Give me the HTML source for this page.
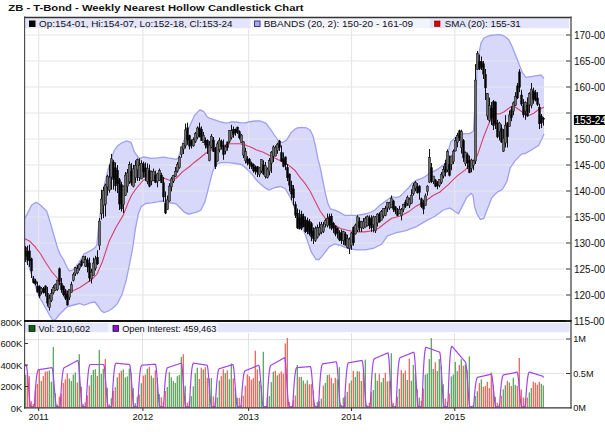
<!DOCTYPE html>
<html><head><meta charset="utf-8"><style>
html,body{margin:0;padding:0;background:#fff;}
body{width:605px;height:434px;overflow:hidden;position:relative;font-family:"Liberation Sans",sans-serif;}
svg{position:absolute;left:0;top:0;display:block;}
text{font-family:"Liberation Sans",sans-serif;}
</style></head><body>
<svg width="605" height="434" viewBox="0 0 605 434">
<rect x="0" y="0" width="605" height="434" fill="#fff"/>
<text x="8.3" y="10.6" font-size="9.9" fill="#111" textLength="295.2" lengthAdjust="spacingAndGlyphs" font-weight="bold">ZB - T-Bond - Weekly Nearest Hollow Candlestick Chart</text>
<rect x="25" y="18.4" width="225" height="9.8" fill="#e4e4fa"/>
<rect x="250" y="18.4" width="180" height="9.8" fill="#f3f3fd"/>
<rect x="430" y="18.4" width="139" height="9.8" fill="#e4e4fa"/>
<rect x="25" y="323" width="83" height="9.2" fill="#e4e4fa"/>
<rect x="108" y="323" width="110" height="9.2" fill="#f3f3fd"/>
<rect x="218" y="323" width="351.5" height="9.2" fill="#e4e4fa"/>
<clipPath id="pc"><rect x="25" y="28.2" width="545" height="292.1"/></clipPath>
<clipPath id="vc"><rect x="25" y="332.2" width="545" height="75.3"/></clipPath>
<g clip-path="url(#pc)">
<polygon points="24.0,220.0 27.0,214.4 31.6,205.2 36.2,202.2 40.7,205.2 46.8,211.3 51.4,226.5 57.5,247.8 60.0,254.0 63.7,260.0 67.4,268.0 69.5,271.0 73.0,270.0 78.0,264.0 84.0,254.0 87.7,252.1 91.4,250.3 95.0,247.5 96.9,244.8 98.4,228.5 101.4,204.6 104.4,185.0 108.0,170.0 111.0,160.0 114.0,151.0 117.5,146.0 121.5,143.0 126.5,141.0 131.0,142.3 134.4,152.0 139.0,158.4 144.0,157.0 151.2,158.3 157.4,157.9 163.6,157.2 167.8,157.9 171.9,158.3 176.0,159.3 178.1,158.3 183.0,143.0 189.5,126.4 194.5,115.3 200.0,109.8 203.7,111.6 207.4,117.0 210.0,118.3 215.5,120.1 221.0,122.0 224.8,122.9 228.5,122.9 231.2,122.0 235.8,122.0 241.4,122.9 245.0,122.9 248.7,122.0 254.3,121.0 260.0,121.0 266.0,123.3 270.2,128.8 274.3,135.0 278.5,141.0 282.6,142.6 286.8,139.9 290.9,133.0 295.0,129.0 297.5,127.8 301.3,127.3 306.4,127.8 310.2,130.3 312.8,135.4 315.3,145.5 317.8,158.2 320.4,168.4 322.9,181.0 325.5,193.8 328.0,203.9 330.5,209.0 335.6,210.3 340.7,212.8 345.0,215.5 348.3,215.3 356.6,215.3 364.9,214.0 370.0,212.5 375.0,210.0 379.1,205.9 383.3,202.8 387.4,199.7 391.6,196.6 395.7,197.6 399.8,196.6 404.0,192.4 408.1,188.3 412.3,183.1 416.4,180.0 420.5,179.0 424.7,176.9 428.8,173.8 433.0,171.7 437.1,169.7 441.3,166.6 445.0,164.0 450.7,142.0 457.6,135.3 464.5,133.6 469.7,133.6 473.5,131.0 475.0,105.0 477.0,72.0 479.0,53.0 481.0,43.0 484.0,38.0 490.0,35.5 498.0,34.6 501.0,35.0 505.0,36.5 508.5,39.5 511.0,44.0 513.5,50.0 516.5,57.5 519.5,65.5 522.6,73.0 526.0,77.3 534.1,76.1 541.0,75.0 544.0,78.5 544.0,134.0 542.2,138.2 538.7,145.2 531.8,149.8 525.0,153.5 521.9,153.8 515.0,160.8 510.3,167.7 506.9,181.5 502.3,189.6 497.7,191.9 491.9,197.6 487.3,209.2 483.8,218.4 480.4,219.5 476.9,213.8 474.6,206.9 473.0,195.3 471.1,193.5 466.5,197.6 462.0,206.9 458.5,213.8 455.0,211.5 450.0,208.0 443.4,210.0 435.0,216.3 426.8,220.4 416.4,226.6 406.0,230.7 395.7,232.8 387.4,236.0 381.5,244.3 373.2,248.5 364.9,249.9 356.6,249.9 348.3,248.5 340.3,245.4 334.8,244.0 329.2,246.8 325.0,252.3 322.0,256.4 319.0,259.5 316.0,259.5 311.0,251.4 305.8,236.0 300.8,223.5 295.7,210.8 290.6,198.0 285.5,189.0 280.5,186.5 275.4,187.5 269.0,190.0 265.2,187.9 260.5,184.0 256.0,179.5 252.4,174.6 248.7,170.9 245.0,167.2 241.4,164.4 235.8,163.5 228.5,162.6 221.0,162.6 217.4,163.5 215.0,166.6 212.3,172.8 209.2,185.2 205.0,201.8 200.9,210.0 196.8,212.1 192.6,213.1 188.5,214.2 184.3,212.1 180.2,208.0 176.0,203.8 171.0,203.0 166.0,202.0 161.6,201.0 157.4,201.8 151.2,202.8 145.8,203.5 141.3,206.4 138.3,214.0 135.4,228.9 132.4,249.8 129.4,264.7 126.4,279.7 122.0,294.6 117.4,303.6 113.0,308.0 108.5,311.0 104.0,312.6 101.0,310.5 98.0,306.0 95.0,302.0 91.4,302.5 87.7,303.8 84.0,305.0 79.5,303.5 73.5,305.0 67.5,306.5 63.0,311.0 58.5,315.5 56.0,319.0 53.0,320.5 50.0,316.0 45.0,307.0 40.0,298.0 36.0,288.0 32.0,276.0 28.0,264.0 24.0,258.0" fill="#d8d8fa" stroke="none"/>
<g stroke="#e6e6ec" stroke-width="1.2">
<line x1="25" y1="295.0" x2="564" y2="295.0"/>
<line x1="25" y1="269.0" x2="564" y2="269.0"/>
<line x1="25" y1="243.0" x2="564" y2="243.0"/>
<line x1="25" y1="217.0" x2="564" y2="217.0"/>
<line x1="25" y1="191.0" x2="564" y2="191.0"/>
<line x1="25" y1="165.0" x2="564" y2="165.0"/>
<line x1="25" y1="139.0" x2="564" y2="139.0"/>
<line x1="25" y1="113.0" x2="564" y2="113.0"/>
<line x1="25" y1="87.0" x2="564" y2="87.0"/>
<line x1="25" y1="61.0" x2="564" y2="61.0"/>
<line x1="25" y1="35.0" x2="564" y2="35.0"/>
<line x1="38.7" y1="28" x2="38.7" y2="320"/>
<line x1="142.9" y1="28" x2="142.9" y2="320"/>
<line x1="248.6" y1="28" x2="248.6" y2="320"/>
<line x1="351.5" y1="28" x2="351.5" y2="320"/>
<line x1="454.8" y1="28" x2="454.8" y2="320"/>
</g>
<polyline points="24.0,220.0 27.0,214.4 31.6,205.2 36.2,202.2 40.7,205.2 46.8,211.3 51.4,226.5 57.5,247.8 60.0,254.0 63.7,260.0 67.4,268.0 69.5,271.0 73.0,270.0 78.0,264.0 84.0,254.0 87.7,252.1 91.4,250.3 95.0,247.5 96.9,244.8 98.4,228.5 101.4,204.6 104.4,185.0 108.0,170.0 111.0,160.0 114.0,151.0 117.5,146.0 121.5,143.0 126.5,141.0 131.0,142.3 134.4,152.0 139.0,158.4 144.0,157.0 151.2,158.3 157.4,157.9 163.6,157.2 167.8,157.9 171.9,158.3 176.0,159.3 178.1,158.3 183.0,143.0 189.5,126.4 194.5,115.3 200.0,109.8 203.7,111.6 207.4,117.0 210.0,118.3 215.5,120.1 221.0,122.0 224.8,122.9 228.5,122.9 231.2,122.0 235.8,122.0 241.4,122.9 245.0,122.9 248.7,122.0 254.3,121.0 260.0,121.0 266.0,123.3 270.2,128.8 274.3,135.0 278.5,141.0 282.6,142.6 286.8,139.9 290.9,133.0 295.0,129.0 297.5,127.8 301.3,127.3 306.4,127.8 310.2,130.3 312.8,135.4 315.3,145.5 317.8,158.2 320.4,168.4 322.9,181.0 325.5,193.8 328.0,203.9 330.5,209.0 335.6,210.3 340.7,212.8 345.0,215.5 348.3,215.3 356.6,215.3 364.9,214.0 370.0,212.5 375.0,210.0 379.1,205.9 383.3,202.8 387.4,199.7 391.6,196.6 395.7,197.6 399.8,196.6 404.0,192.4 408.1,188.3 412.3,183.1 416.4,180.0 420.5,179.0 424.7,176.9 428.8,173.8 433.0,171.7 437.1,169.7 441.3,166.6 445.0,164.0 450.7,142.0 457.6,135.3 464.5,133.6 469.7,133.6 473.5,131.0 475.0,105.0 477.0,72.0 479.0,53.0 481.0,43.0 484.0,38.0 490.0,35.5 498.0,34.6 501.0,35.0 505.0,36.5 508.5,39.5 511.0,44.0 513.5,50.0 516.5,57.5 519.5,65.5 522.6,73.0 526.0,77.3 534.1,76.1 541.0,75.0 544.0,78.5" fill="none" stroke="#a0a0f0" stroke-width="1.3"/>
<polyline points="24.0,258.0 28.0,264.0 32.0,276.0 36.0,288.0 40.0,298.0 45.0,307.0 50.0,316.0 53.0,320.5 56.0,319.0 58.5,315.5 63.0,311.0 67.5,306.5 73.5,305.0 79.5,303.5 84.0,305.0 87.7,303.8 91.4,302.5 95.0,302.0 98.0,306.0 101.0,310.5 104.0,312.6 108.5,311.0 113.0,308.0 117.4,303.6 122.0,294.6 126.4,279.7 129.4,264.7 132.4,249.8 135.4,228.9 138.3,214.0 141.3,206.4 145.8,203.5 151.2,202.8 157.4,201.8 161.6,201.0 166.0,202.0 171.0,203.0 176.0,203.8 180.2,208.0 184.3,212.1 188.5,214.2 192.6,213.1 196.8,212.1 200.9,210.0 205.0,201.8 209.2,185.2 212.3,172.8 215.0,166.6 217.4,163.5 221.0,162.6 228.5,162.6 235.8,163.5 241.4,164.4 245.0,167.2 248.7,170.9 252.4,174.6 256.0,179.5 260.5,184.0 265.2,187.9 269.0,190.0 275.4,187.5 280.5,186.5 285.5,189.0 290.6,198.0 295.7,210.8 300.8,223.5 305.8,236.0 311.0,251.4 316.0,259.5 319.0,259.5 322.0,256.4 325.0,252.3 329.2,246.8 334.8,244.0 340.3,245.4 348.3,248.5 356.6,249.9 364.9,249.9 373.2,248.5 381.5,244.3 387.4,236.0 395.7,232.8 406.0,230.7 416.4,226.6 426.8,220.4 435.0,216.3 443.4,210.0 450.0,208.0 455.0,211.5 458.5,213.8 462.0,206.9 466.5,197.6 471.1,193.5 473.0,195.3 474.6,206.9 476.9,213.8 480.4,219.5 483.8,218.4 487.3,209.2 491.9,197.6 497.7,191.9 502.3,189.6 506.9,181.5 510.3,167.7 515.0,160.8 521.9,153.8 525.0,153.5 531.8,149.8 538.7,145.2 542.2,138.2 544.0,134.0" fill="none" stroke="#a0a0f0" stroke-width="1.3"/>
<polyline points="24.0,238.3 29.5,241.0 35.0,246.6 40.6,254.0 46.0,263.0 51.6,271.5 57.2,278.0 60.9,283.5 65.5,290.0 69.2,291.5 74.8,290.0 80.3,287.2 85.8,283.5 91.4,279.8 96.9,274.3 102.3,262.0 109.2,241.0 116.2,227.0 123.1,215.4 128.4,202.0 132.0,194.5 137.0,187.5 143.5,180.0 150.6,178.0 157.9,177.5 163.5,178.0 170.0,180.5 176.0,178.5 183.0,171.4 189.0,167.0 194.6,162.2 200.0,158.0 206.0,153.0 212.0,149.5 217.6,147.2 224.8,145.0 230.0,143.8 240.0,143.8 245.0,145.0 250.6,146.9 256.0,149.7 263.3,152.3 271.6,156.4 279.9,160.6 288.1,164.7 295.0,170.5 300.0,177.3 305.2,183.6 310.2,191.2 315.3,201.4 320.4,211.5 325.5,218.5 332.0,223.3 340.3,228.5 348.3,230.5 356.6,231.9 364.9,231.9 373.2,230.5 379.0,228.0 383.3,224.5 391.6,218.3 399.8,216.3 408.1,212.1 416.4,205.9 424.7,201.8 433.0,195.5 440.0,192.0 445.0,187.3 448.3,184.7 456.6,176.4 464.9,170.2 471.1,164.0 477.3,155.6 483.6,137.0 487.7,126.6 490.4,119.8 495.0,113.5 499.6,114.0 504.2,111.8 508.8,108.3 512.3,106.0 515.7,107.2 520.3,110.6 525.0,114.0 529.5,115.2 534.1,113.0 538.7,109.5 544.0,107.2" fill="none" stroke="#d8406a" stroke-width="1.1"/>
<line x1="25.5" y1="246.0" x2="25.5" y2="262.0" stroke="#111" stroke-width="1"/>
<rect x="24.30" y="247.2" width="2.4" height="9.3" fill="#000"/>
<line x1="27.5" y1="245.7" x2="27.5" y2="265.0" stroke="#111" stroke-width="1"/>
<rect x="26.30" y="251.1" width="2.4" height="9.2" fill="#000"/>
<line x1="29.5" y1="244.7" x2="29.5" y2="266.9" stroke="#111" stroke-width="1"/>
<rect x="28.30" y="250.6" width="2.4" height="10.5" fill="#000"/>
<line x1="31.5" y1="257.6" x2="31.5" y2="278.0" stroke="#111" stroke-width="1"/>
<rect x="30.30" y="258.5" width="2.4" height="12.7" fill="#000"/>
<line x1="33.5" y1="276.0" x2="33.5" y2="283.5" stroke="#111" stroke-width="1"/>
<rect x="32.30" y="278.3" width="2.4" height="4.6" fill="#000"/>
<line x1="35.5" y1="278.8" x2="35.5" y2="285.3" stroke="#111" stroke-width="1"/>
<rect x="34.30" y="280.6" width="2.4" height="3.5" fill="#000"/>
<line x1="37.5" y1="281.6" x2="37.5" y2="292.7" stroke="#111" stroke-width="1"/>
<rect x="36.30" y="285.6" width="2.4" height="6.8" fill="#000"/>
<line x1="39.5" y1="285.3" x2="39.5" y2="298.2" stroke="#111" stroke-width="1"/>
<rect x="38.30" y="286.1" width="2.4" height="10.2" fill="#000"/>
<line x1="41.5" y1="287.0" x2="41.5" y2="294.5" stroke="#111" stroke-width="1"/>
<rect x="40.30" y="288.2" width="2.4" height="3.7" fill="#6e6e6e" stroke="#111" stroke-width="0.5"/>
<line x1="43.5" y1="287.0" x2="43.5" y2="293.6" stroke="#111" stroke-width="1"/>
<rect x="42.30" y="288.3" width="2.4" height="4.5" fill="#000"/>
<line x1="45.5" y1="285.3" x2="45.5" y2="296.4" stroke="#111" stroke-width="1"/>
<rect x="44.30" y="285.7" width="2.4" height="7.4" fill="#000"/>
<line x1="47.5" y1="287.0" x2="47.5" y2="306.5" stroke="#111" stroke-width="1"/>
<rect x="46.30" y="293.0" width="2.4" height="10.4" fill="#000"/>
<line x1="49.5" y1="294.5" x2="49.5" y2="310.5" stroke="#111" stroke-width="1"/>
<rect x="48.30" y="298.4" width="2.4" height="9.2" fill="#6e6e6e" stroke="#111" stroke-width="0.5"/>
<line x1="51.5" y1="289.0" x2="51.5" y2="302.0" stroke="#111" stroke-width="1"/>
<rect x="50.30" y="293.3" width="2.4" height="7.4" fill="#6e6e6e" stroke="#111" stroke-width="0.5"/>
<line x1="53.5" y1="285.3" x2="53.5" y2="294.5" stroke="#111" stroke-width="1"/>
<rect x="52.30" y="287.7" width="2.4" height="5.0" fill="#6e6e6e" stroke="#111" stroke-width="0.5"/>
<line x1="55.5" y1="283.5" x2="55.5" y2="290.8" stroke="#111" stroke-width="1"/>
<rect x="54.30" y="284.5" width="2.4" height="5.8" fill="#6e6e6e" stroke="#111" stroke-width="0.5"/>
<line x1="57.5" y1="279.8" x2="57.5" y2="290.8" stroke="#111" stroke-width="1"/>
<rect x="56.30" y="280.1" width="2.4" height="9.3" fill="#6e6e6e" stroke="#111" stroke-width="0.5"/>
<line x1="59.5" y1="267.5" x2="59.5" y2="285.3" stroke="#111" stroke-width="1"/>
<rect x="58.30" y="268.3" width="2.4" height="13.4" fill="#000"/>
<line x1="61.5" y1="278.0" x2="61.5" y2="292.7" stroke="#111" stroke-width="1"/>
<rect x="60.30" y="283.1" width="2.4" height="6.8" fill="#000"/>
<line x1="63.5" y1="285.3" x2="63.5" y2="296.4" stroke="#111" stroke-width="1"/>
<rect x="62.30" y="286.0" width="2.4" height="8.9" fill="#000"/>
<line x1="65.5" y1="289.0" x2="65.5" y2="300.0" stroke="#111" stroke-width="1"/>
<rect x="64.30" y="291.0" width="2.4" height="7.6" fill="#000"/>
<line x1="67.5" y1="291.0" x2="67.5" y2="305.6" stroke="#111" stroke-width="1"/>
<rect x="66.30" y="293.8" width="2.4" height="11.5" fill="#000"/>
<line x1="69.5" y1="289.0" x2="69.5" y2="300.0" stroke="#111" stroke-width="1"/>
<rect x="68.30" y="289.3" width="2.4" height="7.9" fill="#6e6e6e" stroke="#111" stroke-width="0.5"/>
<line x1="71.5" y1="281.7" x2="71.5" y2="292.7" stroke="#111" stroke-width="1"/>
<rect x="70.30" y="284.7" width="2.4" height="7.8" fill="#6e6e6e" stroke="#111" stroke-width="0.5"/>
<line x1="73.5" y1="272.4" x2="73.5" y2="281.6" stroke="#111" stroke-width="1"/>
<rect x="72.30" y="274.7" width="2.4" height="5.6" fill="#6e6e6e" stroke="#111" stroke-width="0.5"/>
<line x1="75.5" y1="267.0" x2="75.5" y2="276.0" stroke="#111" stroke-width="1"/>
<rect x="74.30" y="267.7" width="2.4" height="5.7" fill="#6e6e6e" stroke="#111" stroke-width="0.5"/>
<line x1="77.5" y1="265.0" x2="77.5" y2="274.3" stroke="#111" stroke-width="1"/>
<rect x="76.30" y="268.6" width="2.4" height="4.4" fill="#6e6e6e" stroke="#111" stroke-width="0.5"/>
<line x1="79.5" y1="263.2" x2="79.5" y2="270.6" stroke="#111" stroke-width="1"/>
<rect x="78.30" y="264.5" width="2.4" height="4.1" fill="#6e6e6e" stroke="#111" stroke-width="0.5"/>
<line x1="81.5" y1="259.5" x2="81.5" y2="266.9" stroke="#111" stroke-width="1"/>
<rect x="80.30" y="261.0" width="2.4" height="4.7" fill="#000"/>
<line x1="83.5" y1="255.8" x2="83.5" y2="263.2" stroke="#111" stroke-width="1"/>
<rect x="82.30" y="256.3" width="2.4" height="5.9" fill="#6e6e6e" stroke="#111" stroke-width="0.5"/>
<line x1="85.5" y1="255.8" x2="85.5" y2="266.9" stroke="#111" stroke-width="1"/>
<rect x="84.30" y="259.6" width="2.4" height="6.6" fill="#6e6e6e" stroke="#111" stroke-width="0.5"/>
<line x1="87.5" y1="257.7" x2="87.5" y2="272.4" stroke="#111" stroke-width="1"/>
<rect x="86.30" y="259.5" width="2.4" height="7.7" fill="#000"/>
<line x1="89.5" y1="257.7" x2="89.5" y2="281.7" stroke="#111" stroke-width="1"/>
<rect x="88.30" y="262.7" width="2.4" height="15.5" fill="#000"/>
<line x1="91.5" y1="268.7" x2="91.5" y2="283.5" stroke="#111" stroke-width="1"/>
<rect x="90.30" y="272.2" width="2.4" height="6.7" fill="#6e6e6e" stroke="#111" stroke-width="0.5"/>
<line x1="93.5" y1="257.7" x2="93.5" y2="276.0" stroke="#111" stroke-width="1"/>
<rect x="92.30" y="263.1" width="2.4" height="12.4" fill="#6e6e6e" stroke="#111" stroke-width="0.5"/>
<line x1="95.5" y1="255.8" x2="95.5" y2="270.6" stroke="#111" stroke-width="1"/>
<rect x="94.30" y="258.9" width="2.4" height="9.7" fill="#6e6e6e" stroke="#111" stroke-width="0.5"/>
<line x1="97.5" y1="250.3" x2="97.5" y2="265.0" stroke="#111" stroke-width="1"/>
<rect x="96.30" y="257.0" width="2.4" height="7.0" fill="#000"/>
<line x1="99.5" y1="218.0" x2="99.5" y2="250.0" stroke="#111" stroke-width="1"/>
<rect x="98.30" y="221.0" width="2.4" height="24.6" fill="#6e6e6e" stroke="#111" stroke-width="0.5"/>
<line x1="101.5" y1="189.7" x2="101.5" y2="219.6" stroke="#111" stroke-width="1"/>
<rect x="100.30" y="199.1" width="2.4" height="14.7" fill="#6e6e6e" stroke="#111" stroke-width="0.5"/>
<line x1="103.5" y1="186.7" x2="103.5" y2="218.1" stroke="#111" stroke-width="1"/>
<rect x="102.30" y="190.6" width="2.4" height="15.0" fill="#6e6e6e" stroke="#111" stroke-width="0.5"/>
<line x1="105.5" y1="183.7" x2="105.5" y2="216.6" stroke="#111" stroke-width="1"/>
<rect x="104.30" y="185.0" width="2.4" height="19.3" fill="#6e6e6e" stroke="#111" stroke-width="0.5"/>
<line x1="107.5" y1="174.8" x2="107.5" y2="195.7" stroke="#111" stroke-width="1"/>
<rect x="106.30" y="176.2" width="2.4" height="10.7" fill="#6e6e6e" stroke="#111" stroke-width="0.5"/>
<line x1="109.5" y1="164.4" x2="109.5" y2="192.7" stroke="#111" stroke-width="1"/>
<rect x="108.30" y="177.2" width="2.4" height="13.0" fill="#6e6e6e" stroke="#111" stroke-width="0.5"/>
<line x1="111.5" y1="153.9" x2="111.5" y2="189.7" stroke="#111" stroke-width="1"/>
<rect x="110.30" y="158.8" width="2.4" height="18.2" fill="#6e6e6e" stroke="#111" stroke-width="0.5"/>
<line x1="113.5" y1="159.9" x2="113.5" y2="189.7" stroke="#111" stroke-width="1"/>
<rect x="112.30" y="161.8" width="2.4" height="17.8" fill="#000"/>
<line x1="115.5" y1="162.4" x2="115.5" y2="191.3" stroke="#111" stroke-width="1"/>
<rect x="114.30" y="167.6" width="2.4" height="18.4" fill="#000"/>
<line x1="117.5" y1="165.0" x2="117.5" y2="193.0" stroke="#111" stroke-width="1"/>
<rect x="116.30" y="170.1" width="2.4" height="13.7" fill="#000"/>
<line x1="119.5" y1="178.0" x2="119.5" y2="210.0" stroke="#111" stroke-width="1"/>
<rect x="118.30" y="179.4" width="2.4" height="25.0" fill="#000"/>
<line x1="121.5" y1="181.8" x2="121.5" y2="211.5" stroke="#111" stroke-width="1"/>
<rect x="120.30" y="184.4" width="2.4" height="24.7" fill="#000"/>
<line x1="123.5" y1="185.5" x2="123.5" y2="213.0" stroke="#111" stroke-width="1"/>
<rect x="122.30" y="186.2" width="2.4" height="18.3" fill="#6e6e6e" stroke="#111" stroke-width="0.5"/>
<line x1="125.5" y1="172.0" x2="125.5" y2="196.0" stroke="#111" stroke-width="1"/>
<rect x="124.30" y="175.1" width="2.4" height="20.2" fill="#6e6e6e" stroke="#111" stroke-width="0.5"/>
<line x1="127.5" y1="169.0" x2="127.5" y2="192.6" stroke="#111" stroke-width="1"/>
<rect x="126.30" y="173.0" width="2.4" height="13.1" fill="#6e6e6e" stroke="#111" stroke-width="0.5"/>
<line x1="129.5" y1="161.6" x2="129.5" y2="184.0" stroke="#111" stroke-width="1"/>
<rect x="128.30" y="164.5" width="2.4" height="17.0" fill="#6e6e6e" stroke="#111" stroke-width="0.5"/>
<line x1="131.5" y1="163.1" x2="131.5" y2="185.6" stroke="#111" stroke-width="1"/>
<rect x="130.30" y="171.2" width="2.4" height="12.1" fill="#000"/>
<line x1="133.5" y1="164.8" x2="133.5" y2="187.4" stroke="#111" stroke-width="1"/>
<rect x="132.30" y="168.8" width="2.4" height="17.5" fill="#6e6e6e" stroke="#111" stroke-width="0.5"/>
<line x1="135.5" y1="160.3" x2="135.5" y2="182.9" stroke="#111" stroke-width="1"/>
<rect x="134.30" y="165.7" width="2.4" height="12.2" fill="#6e6e6e" stroke="#111" stroke-width="0.5"/>
<line x1="137.5" y1="158.4" x2="137.5" y2="181.0" stroke="#111" stroke-width="1"/>
<rect x="136.30" y="159.3" width="2.4" height="10.4" fill="#6e6e6e" stroke="#111" stroke-width="0.5"/>
<line x1="139.5" y1="158.4" x2="139.5" y2="181.0" stroke="#111" stroke-width="1"/>
<rect x="138.30" y="165.2" width="2.4" height="12.5" fill="#6e6e6e" stroke="#111" stroke-width="0.5"/>
<line x1="141.5" y1="160.2" x2="141.5" y2="179.1" stroke="#111" stroke-width="1"/>
<rect x="140.30" y="163.3" width="2.4" height="15.6" fill="#6e6e6e" stroke="#111" stroke-width="0.5"/>
<line x1="143.5" y1="161.6" x2="143.5" y2="177.7" stroke="#111" stroke-width="1"/>
<rect x="142.30" y="163.5" width="2.4" height="8.7" fill="#000"/>
<line x1="145.5" y1="162.4" x2="145.5" y2="181.0" stroke="#111" stroke-width="1"/>
<rect x="144.30" y="167.7" width="2.4" height="9.9" fill="#000"/>
<line x1="147.5" y1="163.4" x2="147.5" y2="184.2" stroke="#111" stroke-width="1"/>
<rect x="146.30" y="168.2" width="2.4" height="13.3" fill="#6e6e6e" stroke="#111" stroke-width="0.5"/>
<line x1="149.5" y1="164.5" x2="149.5" y2="187.3" stroke="#111" stroke-width="1"/>
<rect x="148.30" y="170.2" width="2.4" height="16.3" fill="#000"/>
<line x1="151.5" y1="170.7" x2="151.5" y2="185.2" stroke="#111" stroke-width="1"/>
<rect x="150.30" y="171.8" width="2.4" height="9.3" fill="#6e6e6e" stroke="#111" stroke-width="0.5"/>
<line x1="153.5" y1="168.6" x2="153.5" y2="181.0" stroke="#111" stroke-width="1"/>
<rect x="152.30" y="171.2" width="2.4" height="9.6" fill="#6e6e6e" stroke="#111" stroke-width="0.5"/>
<line x1="155.5" y1="170.7" x2="155.5" y2="183.1" stroke="#111" stroke-width="1"/>
<rect x="154.30" y="175.1" width="2.4" height="7.6" fill="#000"/>
<line x1="157.5" y1="172.8" x2="157.5" y2="187.3" stroke="#111" stroke-width="1"/>
<rect x="156.30" y="173.9" width="2.4" height="7.5" fill="#6e6e6e" stroke="#111" stroke-width="0.5"/>
<line x1="159.5" y1="168.6" x2="159.5" y2="181.0" stroke="#111" stroke-width="1"/>
<rect x="158.30" y="170.4" width="2.4" height="10.1" fill="#6e6e6e" stroke="#111" stroke-width="0.5"/>
<line x1="161.5" y1="172.8" x2="161.5" y2="183.1" stroke="#111" stroke-width="1"/>
<rect x="160.30" y="174.9" width="2.4" height="8.0" fill="#000"/>
<line x1="163.5" y1="176.9" x2="163.5" y2="201.8" stroke="#111" stroke-width="1"/>
<rect x="162.30" y="182.4" width="2.4" height="14.7" fill="#000"/>
<line x1="165.5" y1="191.4" x2="165.5" y2="214.2" stroke="#111" stroke-width="1"/>
<rect x="164.30" y="202.9" width="2.4" height="10.4" fill="#000"/>
<line x1="167.5" y1="195.5" x2="167.5" y2="210.0" stroke="#111" stroke-width="1"/>
<rect x="166.30" y="199.9" width="2.4" height="9.6" fill="#6e6e6e" stroke="#111" stroke-width="0.5"/>
<line x1="169.5" y1="183.1" x2="169.5" y2="201.8" stroke="#111" stroke-width="1"/>
<rect x="168.30" y="186.1" width="2.4" height="14.9" fill="#6e6e6e" stroke="#111" stroke-width="0.5"/>
<line x1="171.5" y1="176.9" x2="171.5" y2="191.4" stroke="#111" stroke-width="1"/>
<rect x="170.30" y="178.9" width="2.4" height="8.0" fill="#6e6e6e" stroke="#111" stroke-width="0.5"/>
<line x1="173.5" y1="174.8" x2="173.5" y2="183.1" stroke="#111" stroke-width="1"/>
<rect x="172.30" y="175.5" width="2.4" height="5.7" fill="#6e6e6e" stroke="#111" stroke-width="0.5"/>
<line x1="175.5" y1="167.0" x2="175.5" y2="177.0" stroke="#111" stroke-width="1"/>
<rect x="174.30" y="171.3" width="2.4" height="5.0" fill="#6e6e6e" stroke="#111" stroke-width="0.5"/>
<line x1="177.5" y1="162.0" x2="177.5" y2="172.7" stroke="#111" stroke-width="1"/>
<rect x="176.30" y="164.3" width="2.4" height="6.8" fill="#6e6e6e" stroke="#111" stroke-width="0.5"/>
<line x1="179.5" y1="155.9" x2="179.5" y2="168.8" stroke="#111" stroke-width="1"/>
<rect x="178.30" y="157.1" width="2.4" height="10.5" fill="#6e6e6e" stroke="#111" stroke-width="0.5"/>
<line x1="181.5" y1="146.7" x2="181.5" y2="157.7" stroke="#111" stroke-width="1"/>
<rect x="180.30" y="147.0" width="2.4" height="7.3" fill="#6e6e6e" stroke="#111" stroke-width="0.5"/>
<line x1="183.5" y1="143.0" x2="183.5" y2="154.0" stroke="#111" stroke-width="1"/>
<rect x="182.30" y="143.3" width="2.4" height="5.8" fill="#6e6e6e" stroke="#111" stroke-width="0.5"/>
<line x1="185.5" y1="123.6" x2="185.5" y2="148.5" stroke="#111" stroke-width="1"/>
<rect x="184.30" y="129.9" width="2.4" height="15.9" fill="#6e6e6e" stroke="#111" stroke-width="0.5"/>
<line x1="187.5" y1="122.7" x2="187.5" y2="144.8" stroke="#111" stroke-width="1"/>
<rect x="186.30" y="127.5" width="2.4" height="12.8" fill="#000"/>
<line x1="189.5" y1="134.7" x2="189.5" y2="149.4" stroke="#111" stroke-width="1"/>
<rect x="188.30" y="135.2" width="2.4" height="11.3" fill="#000"/>
<line x1="191.5" y1="139.3" x2="191.5" y2="148.5" stroke="#111" stroke-width="1"/>
<rect x="190.30" y="140.5" width="2.4" height="5.1" fill="#000"/>
<line x1="193.5" y1="137.4" x2="193.5" y2="146.7" stroke="#111" stroke-width="1"/>
<rect x="192.30" y="139.6" width="2.4" height="6.3" fill="#6e6e6e" stroke="#111" stroke-width="0.5"/>
<line x1="195.5" y1="132.0" x2="195.5" y2="143.0" stroke="#111" stroke-width="1"/>
<rect x="194.30" y="133.7" width="2.4" height="7.6" fill="#6e6e6e" stroke="#111" stroke-width="0.5"/>
<line x1="197.5" y1="126.4" x2="197.5" y2="139.3" stroke="#111" stroke-width="1"/>
<rect x="196.30" y="128.0" width="2.4" height="9.4" fill="#6e6e6e" stroke="#111" stroke-width="0.5"/>
<line x1="199.5" y1="122.7" x2="199.5" y2="137.4" stroke="#111" stroke-width="1"/>
<rect x="198.30" y="127.4" width="2.4" height="9.4" fill="#000"/>
<line x1="201.5" y1="126.4" x2="201.5" y2="141.0" stroke="#111" stroke-width="1"/>
<rect x="200.30" y="129.0" width="2.4" height="11.7" fill="#000"/>
<line x1="203.5" y1="132.0" x2="203.5" y2="143.0" stroke="#111" stroke-width="1"/>
<rect x="202.30" y="135.2" width="2.4" height="7.4" fill="#6e6e6e" stroke="#111" stroke-width="0.5"/>
<line x1="205.5" y1="137.4" x2="205.5" y2="148.5" stroke="#111" stroke-width="1"/>
<rect x="204.30" y="139.9" width="2.4" height="5.5" fill="#000"/>
<line x1="207.5" y1="139.3" x2="207.5" y2="154.0" stroke="#111" stroke-width="1"/>
<rect x="206.30" y="140.1" width="2.4" height="8.0" fill="#000"/>
<line x1="209.5" y1="141.0" x2="209.5" y2="161.4" stroke="#111" stroke-width="1"/>
<rect x="208.30" y="145.1" width="2.4" height="15.6" fill="#6e6e6e" stroke="#111" stroke-width="0.5"/>
<line x1="211.5" y1="134.0" x2="211.5" y2="148.5" stroke="#111" stroke-width="1"/>
<rect x="210.30" y="136.5" width="2.4" height="10.7" fill="#6e6e6e" stroke="#111" stroke-width="0.5"/>
<line x1="213.5" y1="137.0" x2="213.5" y2="152.0" stroke="#111" stroke-width="1"/>
<rect x="212.30" y="139.7" width="2.4" height="12.0" fill="#000"/>
<line x1="215.5" y1="146.9" x2="215.5" y2="169.0" stroke="#111" stroke-width="1"/>
<rect x="214.30" y="148.4" width="2.4" height="18.4" fill="#000"/>
<line x1="217.5" y1="141.4" x2="217.5" y2="161.7" stroke="#111" stroke-width="1"/>
<rect x="216.30" y="143.9" width="2.4" height="17.2" fill="#6e6e6e" stroke="#111" stroke-width="0.5"/>
<line x1="219.5" y1="137.7" x2="219.5" y2="152.4" stroke="#111" stroke-width="1"/>
<rect x="218.30" y="140.6" width="2.4" height="9.2" fill="#6e6e6e" stroke="#111" stroke-width="0.5"/>
<line x1="221.5" y1="139.5" x2="221.5" y2="149.6" stroke="#111" stroke-width="1"/>
<rect x="220.30" y="141.1" width="2.4" height="5.4" fill="#000"/>
<line x1="223.5" y1="139.5" x2="223.5" y2="159.8" stroke="#111" stroke-width="1"/>
<rect x="222.30" y="145.5" width="2.4" height="9.3" fill="#000"/>
<line x1="225.5" y1="145.0" x2="225.5" y2="154.3" stroke="#111" stroke-width="1"/>
<rect x="224.30" y="146.8" width="2.4" height="4.3" fill="#6e6e6e" stroke="#111" stroke-width="0.5"/>
<line x1="227.5" y1="141.4" x2="227.5" y2="150.6" stroke="#111" stroke-width="1"/>
<rect x="226.30" y="141.7" width="2.4" height="6.0" fill="#000"/>
<line x1="229.5" y1="130.3" x2="229.5" y2="143.2" stroke="#111" stroke-width="1"/>
<rect x="228.30" y="130.6" width="2.4" height="10.8" fill="#6e6e6e" stroke="#111" stroke-width="0.5"/>
<line x1="231.5" y1="124.8" x2="231.5" y2="139.5" stroke="#111" stroke-width="1"/>
<rect x="230.30" y="130.7" width="2.4" height="6.8" fill="#6e6e6e" stroke="#111" stroke-width="0.5"/>
<line x1="233.5" y1="126.6" x2="233.5" y2="137.7" stroke="#111" stroke-width="1"/>
<rect x="232.30" y="129.0" width="2.4" height="5.6" fill="#000"/>
<line x1="235.5" y1="128.5" x2="235.5" y2="135.8" stroke="#111" stroke-width="1"/>
<rect x="234.30" y="129.1" width="2.4" height="4.0" fill="#000"/>
<line x1="237.5" y1="126.6" x2="237.5" y2="134.0" stroke="#111" stroke-width="1"/>
<rect x="236.30" y="126.9" width="2.4" height="5.4" fill="#000"/>
<line x1="239.5" y1="130.3" x2="239.5" y2="139.5" stroke="#111" stroke-width="1"/>
<rect x="238.30" y="131.4" width="2.4" height="6.7" fill="#000"/>
<line x1="241.5" y1="134.0" x2="241.5" y2="143.2" stroke="#111" stroke-width="1"/>
<rect x="240.30" y="135.0" width="2.4" height="7.6" fill="#6e6e6e" stroke="#111" stroke-width="0.5"/>
<line x1="243.5" y1="141.4" x2="243.5" y2="158.0" stroke="#111" stroke-width="1"/>
<rect x="242.30" y="141.8" width="2.4" height="13.2" fill="#6e6e6e" stroke="#111" stroke-width="0.5"/>
<line x1="245.5" y1="147.8" x2="245.5" y2="163.5" stroke="#111" stroke-width="1"/>
<rect x="244.30" y="151.4" width="2.4" height="9.2" fill="#6e6e6e" stroke="#111" stroke-width="0.5"/>
<line x1="247.5" y1="156.1" x2="247.5" y2="165.4" stroke="#111" stroke-width="1"/>
<rect x="246.30" y="158.5" width="2.4" height="4.7" fill="#000"/>
<line x1="249.5" y1="158.0" x2="249.5" y2="169.0" stroke="#111" stroke-width="1"/>
<rect x="248.30" y="159.1" width="2.4" height="5.4" fill="#000"/>
<line x1="251.5" y1="161.7" x2="251.5" y2="169.0" stroke="#111" stroke-width="1"/>
<rect x="250.30" y="162.8" width="2.4" height="3.9" fill="#000"/>
<line x1="253.5" y1="163.5" x2="253.5" y2="172.7" stroke="#111" stroke-width="1"/>
<rect x="252.30" y="164.2" width="2.4" height="6.9" fill="#000"/>
<line x1="255.5" y1="165.4" x2="255.5" y2="174.6" stroke="#111" stroke-width="1"/>
<rect x="254.30" y="167.0" width="2.4" height="4.8" fill="#000"/>
<line x1="257.5" y1="166.0" x2="257.5" y2="177.0" stroke="#111" stroke-width="1"/>
<rect x="256.30" y="166.3" width="2.4" height="6.1" fill="#000"/>
<line x1="259.5" y1="167.2" x2="259.5" y2="177.0" stroke="#111" stroke-width="1"/>
<rect x="258.30" y="167.9" width="2.4" height="6.6" fill="#6e6e6e" stroke="#111" stroke-width="0.5"/>
<line x1="261.5" y1="159.2" x2="261.5" y2="173.0" stroke="#111" stroke-width="1"/>
<rect x="260.30" y="159.6" width="2.4" height="11.4" fill="#6e6e6e" stroke="#111" stroke-width="0.5"/>
<line x1="263.5" y1="160.3" x2="263.5" y2="175.2" stroke="#111" stroke-width="1"/>
<rect x="262.30" y="164.5" width="2.4" height="9.7" fill="#000"/>
<line x1="265.5" y1="162.0" x2="265.5" y2="178.5" stroke="#111" stroke-width="1"/>
<rect x="264.30" y="165.8" width="2.4" height="10.8" fill="#6e6e6e" stroke="#111" stroke-width="0.5"/>
<line x1="267.5" y1="167.5" x2="267.5" y2="178.5" stroke="#111" stroke-width="1"/>
<rect x="266.30" y="169.1" width="2.4" height="8.6" fill="#6e6e6e" stroke="#111" stroke-width="0.5"/>
<line x1="269.5" y1="158.1" x2="269.5" y2="175.4" stroke="#111" stroke-width="1"/>
<rect x="268.30" y="160.5" width="2.4" height="10.6" fill="#6e6e6e" stroke="#111" stroke-width="0.5"/>
<line x1="271.5" y1="151.0" x2="271.5" y2="173.0" stroke="#111" stroke-width="1"/>
<rect x="270.30" y="152.2" width="2.4" height="11.0" fill="#6e6e6e" stroke="#111" stroke-width="0.5"/>
<line x1="273.5" y1="145.4" x2="273.5" y2="162.0" stroke="#111" stroke-width="1"/>
<rect x="272.30" y="146.9" width="2.4" height="9.2" fill="#6e6e6e" stroke="#111" stroke-width="0.5"/>
<line x1="275.5" y1="145.4" x2="275.5" y2="156.4" stroke="#111" stroke-width="1"/>
<rect x="274.30" y="147.4" width="2.4" height="8.7" fill="#6e6e6e" stroke="#111" stroke-width="0.5"/>
<line x1="277.5" y1="142.8" x2="277.5" y2="153.8" stroke="#111" stroke-width="1"/>
<rect x="276.30" y="144.1" width="2.4" height="6.2" fill="#6e6e6e" stroke="#111" stroke-width="0.5"/>
<line x1="279.5" y1="139.9" x2="279.5" y2="150.9" stroke="#111" stroke-width="1"/>
<rect x="278.30" y="140.7" width="2.4" height="7.0" fill="#000"/>
<line x1="281.5" y1="145.4" x2="281.5" y2="162.0" stroke="#111" stroke-width="1"/>
<rect x="280.30" y="152.2" width="2.4" height="9.2" fill="#000"/>
<line x1="283.5" y1="152.5" x2="283.5" y2="167.3" stroke="#111" stroke-width="1"/>
<rect x="282.30" y="158.6" width="2.4" height="8.1" fill="#000"/>
<line x1="285.5" y1="156.4" x2="285.5" y2="170.2" stroke="#111" stroke-width="1"/>
<rect x="284.30" y="156.7" width="2.4" height="8.2" fill="#000"/>
<line x1="287.5" y1="164.2" x2="287.5" y2="181.0" stroke="#111" stroke-width="1"/>
<rect x="286.30" y="167.2" width="2.4" height="10.7" fill="#000"/>
<line x1="289.5" y1="173.5" x2="289.5" y2="191.5" stroke="#111" stroke-width="1"/>
<rect x="288.30" y="173.8" width="2.4" height="11.7" fill="#000"/>
<line x1="291.5" y1="180.7" x2="291.5" y2="200.3" stroke="#111" stroke-width="1"/>
<rect x="290.30" y="184.9" width="2.4" height="9.5" fill="#000"/>
<line x1="293.5" y1="185.0" x2="293.5" y2="205.5" stroke="#111" stroke-width="1"/>
<rect x="292.30" y="188.6" width="2.4" height="9.4" fill="#000"/>
<line x1="295.5" y1="201.5" x2="295.5" y2="218.0" stroke="#111" stroke-width="1"/>
<rect x="294.30" y="204.2" width="2.4" height="11.3" fill="#000"/>
<line x1="297.5" y1="208.5" x2="297.5" y2="229.0" stroke="#111" stroke-width="1"/>
<rect x="296.30" y="213.0" width="2.4" height="15.1" fill="#000"/>
<line x1="299.5" y1="209.7" x2="299.5" y2="229.6" stroke="#111" stroke-width="1"/>
<rect x="298.30" y="217.5" width="2.4" height="11.6" fill="#000"/>
<line x1="301.5" y1="210.8" x2="301.5" y2="230.2" stroke="#111" stroke-width="1"/>
<rect x="300.30" y="214.0" width="2.4" height="14.3" fill="#000"/>
<line x1="303.5" y1="213.6" x2="303.5" y2="227.4" stroke="#111" stroke-width="1"/>
<rect x="302.30" y="216.1" width="2.4" height="10.8" fill="#000"/>
<line x1="305.5" y1="216.4" x2="305.5" y2="233.0" stroke="#111" stroke-width="1"/>
<rect x="304.30" y="219.7" width="2.4" height="12.3" fill="#000"/>
<line x1="307.5" y1="217.6" x2="307.5" y2="234.3" stroke="#111" stroke-width="1"/>
<rect x="306.30" y="220.5" width="2.4" height="11.0" fill="#000"/>
<line x1="309.5" y1="219.0" x2="309.5" y2="235.7" stroke="#111" stroke-width="1"/>
<rect x="308.30" y="221.1" width="2.4" height="13.0" fill="#000"/>
<line x1="311.5" y1="221.9" x2="311.5" y2="241.2" stroke="#111" stroke-width="1"/>
<rect x="310.30" y="223.3" width="2.4" height="14.0" fill="#000"/>
<line x1="313.5" y1="227.4" x2="313.5" y2="244.0" stroke="#111" stroke-width="1"/>
<rect x="312.30" y="230.5" width="2.4" height="8.4" fill="#000"/>
<line x1="315.5" y1="226.4" x2="315.5" y2="242.0" stroke="#111" stroke-width="1"/>
<rect x="314.30" y="228.3" width="2.4" height="12.3" fill="#6e6e6e" stroke="#111" stroke-width="0.5"/>
<line x1="317.5" y1="224.6" x2="317.5" y2="238.5" stroke="#111" stroke-width="1"/>
<rect x="316.30" y="227.4" width="2.4" height="9.7" fill="#6e6e6e" stroke="#111" stroke-width="0.5"/>
<line x1="319.5" y1="221.9" x2="319.5" y2="235.7" stroke="#111" stroke-width="1"/>
<rect x="318.30" y="227.7" width="2.4" height="6.2" fill="#6e6e6e" stroke="#111" stroke-width="0.5"/>
<line x1="321.5" y1="221.9" x2="321.5" y2="234.3" stroke="#111" stroke-width="1"/>
<rect x="320.30" y="224.2" width="2.4" height="8.1" fill="#6e6e6e" stroke="#111" stroke-width="0.5"/>
<line x1="323.5" y1="221.9" x2="323.5" y2="233.0" stroke="#111" stroke-width="1"/>
<rect x="322.30" y="226.0" width="2.4" height="5.3" fill="#6e6e6e" stroke="#111" stroke-width="0.5"/>
<line x1="325.5" y1="219.0" x2="325.5" y2="227.4" stroke="#111" stroke-width="1"/>
<rect x="324.30" y="220.3" width="2.4" height="4.0" fill="#6e6e6e" stroke="#111" stroke-width="0.5"/>
<line x1="327.5" y1="213.6" x2="327.5" y2="227.4" stroke="#111" stroke-width="1"/>
<rect x="326.30" y="218.2" width="2.4" height="7.3" fill="#6e6e6e" stroke="#111" stroke-width="0.5"/>
<line x1="329.5" y1="213.6" x2="329.5" y2="228.6" stroke="#111" stroke-width="1"/>
<rect x="328.30" y="216.5" width="2.4" height="9.0" fill="#000"/>
<line x1="331.5" y1="213.6" x2="331.5" y2="230.2" stroke="#111" stroke-width="1"/>
<rect x="330.30" y="216.0" width="2.4" height="12.6" fill="#000"/>
<line x1="333.5" y1="221.9" x2="333.5" y2="233.0" stroke="#111" stroke-width="1"/>
<rect x="332.30" y="223.0" width="2.4" height="5.3" fill="#000"/>
<line x1="335.5" y1="225.2" x2="335.5" y2="236.3" stroke="#111" stroke-width="1"/>
<rect x="334.30" y="226.1" width="2.4" height="8.3" fill="#000"/>
<line x1="337.5" y1="227.4" x2="337.5" y2="238.5" stroke="#111" stroke-width="1"/>
<rect x="336.30" y="228.0" width="2.4" height="5.1" fill="#000"/>
<line x1="339.5" y1="230.2" x2="339.5" y2="241.2" stroke="#111" stroke-width="1"/>
<rect x="338.30" y="232.3" width="2.4" height="7.9" fill="#000"/>
<line x1="341.5" y1="229.5" x2="341.5" y2="244.0" stroke="#111" stroke-width="1"/>
<rect x="340.30" y="232.7" width="2.4" height="8.2" fill="#000"/>
<line x1="343.5" y1="230.8" x2="343.5" y2="244.9" stroke="#111" stroke-width="1"/>
<rect x="342.30" y="231.6" width="2.4" height="9.0" fill="#6e6e6e" stroke="#111" stroke-width="0.5"/>
<line x1="345.5" y1="232.0" x2="345.5" y2="245.7" stroke="#111" stroke-width="1"/>
<rect x="344.30" y="233.9" width="2.4" height="11.5" fill="#000"/>
<line x1="347.5" y1="234.6" x2="347.5" y2="248.5" stroke="#111" stroke-width="1"/>
<rect x="346.30" y="238.6" width="2.4" height="8.8" fill="#6e6e6e" stroke="#111" stroke-width="0.5"/>
<line x1="349.5" y1="237.4" x2="349.5" y2="254.0" stroke="#111" stroke-width="1"/>
<rect x="348.30" y="239.2" width="2.4" height="9.3" fill="#6e6e6e" stroke="#111" stroke-width="0.5"/>
<line x1="351.5" y1="231.9" x2="351.5" y2="249.8" stroke="#111" stroke-width="1"/>
<rect x="350.30" y="232.9" width="2.4" height="12.3" fill="#6e6e6e" stroke="#111" stroke-width="0.5"/>
<line x1="353.5" y1="226.4" x2="353.5" y2="245.7" stroke="#111" stroke-width="1"/>
<rect x="352.30" y="227.0" width="2.4" height="16.0" fill="#000"/>
<line x1="355.5" y1="223.6" x2="355.5" y2="234.6" stroke="#111" stroke-width="1"/>
<rect x="354.30" y="225.1" width="2.4" height="8.9" fill="#6e6e6e" stroke="#111" stroke-width="0.5"/>
<line x1="357.5" y1="215.3" x2="357.5" y2="231.9" stroke="#111" stroke-width="1"/>
<rect x="356.30" y="216.8" width="2.4" height="13.4" fill="#6e6e6e" stroke="#111" stroke-width="0.5"/>
<line x1="359.5" y1="217.3" x2="359.5" y2="231.9" stroke="#111" stroke-width="1"/>
<rect x="358.30" y="221.3" width="2.4" height="6.6" fill="#000"/>
<line x1="361.5" y1="220.8" x2="361.5" y2="231.9" stroke="#111" stroke-width="1"/>
<rect x="360.30" y="221.6" width="2.4" height="6.3" fill="#6e6e6e" stroke="#111" stroke-width="0.5"/>
<line x1="363.5" y1="218.0" x2="363.5" y2="229.0" stroke="#111" stroke-width="1"/>
<rect x="362.30" y="221.8" width="2.4" height="6.3" fill="#6e6e6e" stroke="#111" stroke-width="0.5"/>
<line x1="365.5" y1="216.5" x2="365.5" y2="227.6" stroke="#111" stroke-width="1"/>
<rect x="364.30" y="218.7" width="2.4" height="8.3" fill="#6e6e6e" stroke="#111" stroke-width="0.5"/>
<line x1="367.5" y1="215.3" x2="367.5" y2="226.4" stroke="#111" stroke-width="1"/>
<rect x="366.30" y="216.7" width="2.4" height="9.1" fill="#6e6e6e" stroke="#111" stroke-width="0.5"/>
<line x1="369.5" y1="215.3" x2="369.5" y2="229.0" stroke="#111" stroke-width="1"/>
<rect x="368.30" y="217.5" width="2.4" height="8.2" fill="#000"/>
<line x1="371.5" y1="215.3" x2="371.5" y2="231.9" stroke="#111" stroke-width="1"/>
<rect x="370.30" y="218.2" width="2.4" height="9.9" fill="#000"/>
<line x1="373.5" y1="215.6" x2="373.5" y2="232.4" stroke="#111" stroke-width="1"/>
<rect x="372.30" y="216.9" width="2.4" height="7.9" fill="#6e6e6e" stroke="#111" stroke-width="0.5"/>
<line x1="375.5" y1="216.0" x2="375.5" y2="233.0" stroke="#111" stroke-width="1"/>
<rect x="374.30" y="216.8" width="2.4" height="14.0" fill="#6e6e6e" stroke="#111" stroke-width="0.5"/>
<line x1="377.5" y1="213.1" x2="377.5" y2="226.6" stroke="#111" stroke-width="1"/>
<rect x="376.30" y="214.1" width="2.4" height="8.8" fill="#6e6e6e" stroke="#111" stroke-width="0.5"/>
<line x1="379.5" y1="212.2" x2="379.5" y2="222.5" stroke="#111" stroke-width="1"/>
<rect x="378.30" y="213.7" width="2.4" height="8.6" fill="#000"/>
<line x1="381.5" y1="210.0" x2="381.5" y2="220.4" stroke="#111" stroke-width="1"/>
<rect x="380.30" y="211.7" width="2.4" height="8.5" fill="#6e6e6e" stroke="#111" stroke-width="0.5"/>
<line x1="383.5" y1="208.0" x2="383.5" y2="218.3" stroke="#111" stroke-width="1"/>
<rect x="382.30" y="208.3" width="2.4" height="7.6" fill="#6e6e6e" stroke="#111" stroke-width="0.5"/>
<line x1="385.5" y1="205.9" x2="385.5" y2="216.3" stroke="#111" stroke-width="1"/>
<rect x="384.30" y="208.7" width="2.4" height="6.6" fill="#6e6e6e" stroke="#111" stroke-width="0.5"/>
<line x1="387.5" y1="201.8" x2="387.5" y2="212.1" stroke="#111" stroke-width="1"/>
<rect x="386.30" y="202.2" width="2.4" height="5.8" fill="#6e6e6e" stroke="#111" stroke-width="0.5"/>
<line x1="389.5" y1="201.8" x2="389.5" y2="210.0" stroke="#111" stroke-width="1"/>
<rect x="388.30" y="202.9" width="2.4" height="5.2" fill="#6e6e6e" stroke="#111" stroke-width="0.5"/>
<line x1="391.5" y1="195.5" x2="391.5" y2="208.0" stroke="#111" stroke-width="1"/>
<rect x="390.30" y="198.5" width="2.4" height="9.3" fill="#6e6e6e" stroke="#111" stroke-width="0.5"/>
<line x1="393.5" y1="199.7" x2="393.5" y2="212.1" stroke="#111" stroke-width="1"/>
<rect x="392.30" y="200.8" width="2.4" height="8.8" fill="#000"/>
<line x1="395.5" y1="205.9" x2="395.5" y2="214.2" stroke="#111" stroke-width="1"/>
<rect x="394.30" y="206.6" width="2.4" height="5.0" fill="#000"/>
<line x1="397.5" y1="208.0" x2="397.5" y2="216.3" stroke="#111" stroke-width="1"/>
<rect x="396.30" y="211.4" width="2.4" height="4.4" fill="#000"/>
<line x1="399.5" y1="205.9" x2="399.5" y2="214.2" stroke="#111" stroke-width="1"/>
<rect x="398.30" y="209.2" width="2.4" height="4.5" fill="#6e6e6e" stroke="#111" stroke-width="0.5"/>
<line x1="401.5" y1="208.0" x2="401.5" y2="220.4" stroke="#111" stroke-width="1"/>
<rect x="400.30" y="209.4" width="2.4" height="6.3" fill="#6e6e6e" stroke="#111" stroke-width="0.5"/>
<line x1="403.5" y1="203.8" x2="403.5" y2="212.1" stroke="#111" stroke-width="1"/>
<rect x="402.30" y="204.3" width="2.4" height="4.9" fill="#6e6e6e" stroke="#111" stroke-width="0.5"/>
<line x1="405.5" y1="199.7" x2="405.5" y2="208.0" stroke="#111" stroke-width="1"/>
<rect x="404.30" y="201.8" width="2.4" height="4.6" fill="#000"/>
<line x1="407.5" y1="195.5" x2="407.5" y2="205.9" stroke="#111" stroke-width="1"/>
<rect x="406.30" y="197.2" width="2.4" height="6.4" fill="#6e6e6e" stroke="#111" stroke-width="0.5"/>
<line x1="409.5" y1="197.6" x2="409.5" y2="208.0" stroke="#111" stroke-width="1"/>
<rect x="408.30" y="199.1" width="2.4" height="6.2" fill="#6e6e6e" stroke="#111" stroke-width="0.5"/>
<line x1="411.5" y1="189.3" x2="411.5" y2="203.8" stroke="#111" stroke-width="1"/>
<rect x="410.30" y="195.2" width="2.4" height="8.1" fill="#6e6e6e" stroke="#111" stroke-width="0.5"/>
<line x1="413.5" y1="183.1" x2="413.5" y2="195.5" stroke="#111" stroke-width="1"/>
<rect x="412.30" y="185.8" width="2.4" height="8.1" fill="#6e6e6e" stroke="#111" stroke-width="0.5"/>
<line x1="415.5" y1="181.0" x2="415.5" y2="191.4" stroke="#111" stroke-width="1"/>
<rect x="414.30" y="182.3" width="2.4" height="5.8" fill="#6e6e6e" stroke="#111" stroke-width="0.5"/>
<line x1="417.5" y1="183.1" x2="417.5" y2="193.5" stroke="#111" stroke-width="1"/>
<rect x="416.30" y="186.6" width="2.4" height="6.5" fill="#000"/>
<line x1="419.5" y1="185.2" x2="419.5" y2="199.7" stroke="#111" stroke-width="1"/>
<rect x="418.30" y="185.8" width="2.4" height="6.7" fill="#000"/>
<line x1="421.5" y1="197.6" x2="421.5" y2="208.0" stroke="#111" stroke-width="1"/>
<rect x="420.30" y="198.5" width="2.4" height="8.4" fill="#000"/>
<line x1="423.5" y1="199.7" x2="423.5" y2="214.2" stroke="#111" stroke-width="1"/>
<rect x="422.30" y="202.9" width="2.4" height="6.5" fill="#000"/>
<line x1="425.5" y1="193.5" x2="425.5" y2="205.9" stroke="#111" stroke-width="1"/>
<rect x="424.30" y="195.9" width="2.4" height="9.8" fill="#6e6e6e" stroke="#111" stroke-width="0.5"/>
<line x1="427.5" y1="185.2" x2="427.5" y2="195.5" stroke="#111" stroke-width="1"/>
<rect x="426.30" y="186.2" width="2.4" height="5.1" fill="#6e6e6e" stroke="#111" stroke-width="0.5"/>
<line x1="429.5" y1="149.0" x2="429.5" y2="183.1" stroke="#111" stroke-width="1"/>
<rect x="428.30" y="157.5" width="2.4" height="24.6" fill="#6e6e6e" stroke="#111" stroke-width="0.5"/>
<line x1="431.5" y1="163.0" x2="431.5" y2="183.1" stroke="#111" stroke-width="1"/>
<rect x="430.30" y="167.3" width="2.4" height="14.3" fill="#000"/>
<line x1="433.5" y1="175.9" x2="433.5" y2="184.1" stroke="#111" stroke-width="1"/>
<rect x="432.30" y="176.1" width="2.4" height="5.5" fill="#6e6e6e" stroke="#111" stroke-width="0.5"/>
<line x1="435.5" y1="178.9" x2="435.5" y2="187.2" stroke="#111" stroke-width="1"/>
<rect x="434.30" y="179.9" width="2.4" height="6.7" fill="#000"/>
<line x1="437.5" y1="181.0" x2="437.5" y2="189.3" stroke="#111" stroke-width="1"/>
<rect x="436.30" y="182.1" width="2.4" height="4.2" fill="#000"/>
<line x1="439.5" y1="179.0" x2="439.5" y2="187.3" stroke="#111" stroke-width="1"/>
<rect x="438.30" y="179.3" width="2.4" height="6.1" fill="#6e6e6e" stroke="#111" stroke-width="0.5"/>
<line x1="441.5" y1="172.0" x2="441.5" y2="184.0" stroke="#111" stroke-width="1"/>
<rect x="440.30" y="174.3" width="2.4" height="7.9" fill="#6e6e6e" stroke="#111" stroke-width="0.5"/>
<line x1="443.5" y1="166.0" x2="443.5" y2="178.5" stroke="#111" stroke-width="1"/>
<rect x="442.30" y="169.4" width="2.4" height="6.7" fill="#6e6e6e" stroke="#111" stroke-width="0.5"/>
<line x1="445.5" y1="159.8" x2="445.5" y2="176.4" stroke="#111" stroke-width="1"/>
<rect x="444.30" y="163.1" width="2.4" height="9.5" fill="#000"/>
<line x1="447.5" y1="149.4" x2="447.5" y2="172.2" stroke="#111" stroke-width="1"/>
<rect x="446.30" y="151.5" width="2.4" height="18.3" fill="#6e6e6e" stroke="#111" stroke-width="0.5"/>
<line x1="449.5" y1="155.6" x2="449.5" y2="176.4" stroke="#111" stroke-width="1"/>
<rect x="448.30" y="164.2" width="2.4" height="11.4" fill="#000"/>
<line x1="451.5" y1="155.6" x2="451.5" y2="170.2" stroke="#111" stroke-width="1"/>
<rect x="450.30" y="156.0" width="2.4" height="8.4" fill="#6e6e6e" stroke="#111" stroke-width="0.5"/>
<line x1="453.5" y1="149.4" x2="453.5" y2="164.0" stroke="#111" stroke-width="1"/>
<rect x="452.30" y="151.2" width="2.4" height="10.5" fill="#6e6e6e" stroke="#111" stroke-width="0.5"/>
<line x1="455.5" y1="137.0" x2="455.5" y2="151.5" stroke="#111" stroke-width="1"/>
<rect x="454.30" y="140.6" width="2.4" height="10.4" fill="#6e6e6e" stroke="#111" stroke-width="0.5"/>
<line x1="457.5" y1="132.8" x2="457.5" y2="147.3" stroke="#111" stroke-width="1"/>
<rect x="456.30" y="135.6" width="2.4" height="6.7" fill="#6e6e6e" stroke="#111" stroke-width="0.5"/>
<line x1="459.5" y1="129.7" x2="459.5" y2="141.0" stroke="#111" stroke-width="1"/>
<rect x="458.30" y="130.4" width="2.4" height="8.2" fill="#000"/>
<line x1="461.5" y1="129.7" x2="461.5" y2="153.6" stroke="#111" stroke-width="1"/>
<rect x="460.30" y="131.7" width="2.4" height="15.6" fill="#6e6e6e" stroke="#111" stroke-width="0.5"/>
<line x1="463.5" y1="139.0" x2="463.5" y2="161.9" stroke="#111" stroke-width="1"/>
<rect x="462.30" y="140.3" width="2.4" height="17.8" fill="#000"/>
<line x1="465.5" y1="151.5" x2="465.5" y2="166.0" stroke="#111" stroke-width="1"/>
<rect x="464.30" y="152.6" width="2.4" height="10.9" fill="#6e6e6e" stroke="#111" stroke-width="0.5"/>
<line x1="467.5" y1="152.6" x2="467.5" y2="169.1" stroke="#111" stroke-width="1"/>
<rect x="466.30" y="154.5" width="2.4" height="8.7" fill="#000"/>
<line x1="469.5" y1="155.6" x2="469.5" y2="173.2" stroke="#111" stroke-width="1"/>
<rect x="468.30" y="160.2" width="2.4" height="12.6" fill="#000"/>
<line x1="471.5" y1="158.7" x2="471.5" y2="172.3" stroke="#111" stroke-width="1"/>
<rect x="470.30" y="160.0" width="2.4" height="8.3" fill="#6e6e6e" stroke="#111" stroke-width="0.5"/>
<line x1="473.5" y1="159.8" x2="473.5" y2="170.2" stroke="#111" stroke-width="1"/>
<rect x="472.30" y="160.4" width="2.4" height="4.9" fill="#6e6e6e" stroke="#111" stroke-width="0.5"/>
<line x1="475.5" y1="64.0" x2="475.5" y2="164.0" stroke="#111" stroke-width="1"/>
<rect x="474.30" y="80.1" width="2.4" height="80.9" fill="#6e6e6e" stroke="#111" stroke-width="0.5"/>
<line x1="477.5" y1="51.0" x2="477.5" y2="70.0" stroke="#111" stroke-width="1"/>
<rect x="476.30" y="53.5" width="2.4" height="16.1" fill="#6e6e6e" stroke="#111" stroke-width="0.5"/>
<line x1="479.5" y1="54.5" x2="479.5" y2="70.0" stroke="#111" stroke-width="1"/>
<rect x="478.30" y="61.1" width="2.4" height="8.1" fill="#000"/>
<line x1="481.5" y1="56.5" x2="481.5" y2="70.0" stroke="#111" stroke-width="1"/>
<rect x="480.30" y="61.2" width="2.4" height="6.2" fill="#000"/>
<line x1="483.5" y1="61.0" x2="483.5" y2="79.0" stroke="#111" stroke-width="1"/>
<rect x="482.30" y="63.5" width="2.4" height="10.8" fill="#000"/>
<line x1="485.5" y1="69.0" x2="485.5" y2="100.0" stroke="#111" stroke-width="1"/>
<rect x="484.30" y="74.1" width="2.4" height="14.0" fill="#000"/>
<line x1="487.5" y1="93.0" x2="487.5" y2="119.8" stroke="#111" stroke-width="1"/>
<rect x="486.30" y="93.7" width="2.4" height="22.3" fill="#6e6e6e" stroke="#111" stroke-width="0.5"/>
<line x1="489.5" y1="97.5" x2="489.5" y2="122.4" stroke="#111" stroke-width="1"/>
<rect x="488.30" y="105.5" width="2.4" height="14.8" fill="#6e6e6e" stroke="#111" stroke-width="0.5"/>
<line x1="491.5" y1="102.0" x2="491.5" y2="125.0" stroke="#111" stroke-width="1"/>
<rect x="490.30" y="107.8" width="2.4" height="10.8" fill="#000"/>
<line x1="493.5" y1="100.0" x2="493.5" y2="130.0" stroke="#111" stroke-width="1"/>
<rect x="492.30" y="101.2" width="2.4" height="24.5" fill="#000"/>
<line x1="495.5" y1="101.4" x2="495.5" y2="129.0" stroke="#111" stroke-width="1"/>
<rect x="494.30" y="101.8" width="2.4" height="22.3" fill="#000"/>
<line x1="497.5" y1="119.8" x2="497.5" y2="138.2" stroke="#111" stroke-width="1"/>
<rect x="496.30" y="122.9" width="2.4" height="14.3" fill="#000"/>
<line x1="499.5" y1="121.9" x2="499.5" y2="140.4" stroke="#111" stroke-width="1"/>
<rect x="498.30" y="123.0" width="2.4" height="8.6" fill="#6e6e6e" stroke="#111" stroke-width="0.5"/>
<line x1="501.5" y1="124.4" x2="501.5" y2="142.9" stroke="#111" stroke-width="1"/>
<rect x="500.30" y="128.4" width="2.4" height="13.9" fill="#000"/>
<line x1="503.5" y1="129.0" x2="503.5" y2="152.0" stroke="#111" stroke-width="1"/>
<rect x="502.30" y="138.3" width="2.4" height="12.9" fill="#6e6e6e" stroke="#111" stroke-width="0.5"/>
<line x1="505.5" y1="115.2" x2="505.5" y2="147.5" stroke="#111" stroke-width="1"/>
<rect x="504.30" y="125.2" width="2.4" height="17.9" fill="#6e6e6e" stroke="#111" stroke-width="0.5"/>
<line x1="507.5" y1="122.1" x2="507.5" y2="147.5" stroke="#111" stroke-width="1"/>
<rect x="506.30" y="122.7" width="2.4" height="14.2" fill="#000"/>
<line x1="509.5" y1="110.6" x2="509.5" y2="126.7" stroke="#111" stroke-width="1"/>
<rect x="508.30" y="114.9" width="2.4" height="11.3" fill="#6e6e6e" stroke="#111" stroke-width="0.5"/>
<line x1="511.5" y1="106.2" x2="511.5" y2="121.2" stroke="#111" stroke-width="1"/>
<rect x="510.30" y="109.5" width="2.4" height="8.2" fill="#000"/>
<line x1="513.5" y1="101.4" x2="513.5" y2="115.2" stroke="#111" stroke-width="1"/>
<rect x="512.30" y="102.9" width="2.4" height="8.3" fill="#6e6e6e" stroke="#111" stroke-width="0.5"/>
<line x1="515.5" y1="92.2" x2="515.5" y2="106.0" stroke="#111" stroke-width="1"/>
<rect x="514.30" y="96.5" width="2.4" height="8.9" fill="#6e6e6e" stroke="#111" stroke-width="0.5"/>
<line x1="517.5" y1="83.0" x2="517.5" y2="99.1" stroke="#111" stroke-width="1"/>
<rect x="516.30" y="85.6" width="2.4" height="12.4" fill="#000"/>
<line x1="519.5" y1="69.2" x2="519.5" y2="92.2" stroke="#111" stroke-width="1"/>
<rect x="518.30" y="71.6" width="2.4" height="15.9" fill="#000"/>
<line x1="521.5" y1="89.9" x2="521.5" y2="106.0" stroke="#111" stroke-width="1"/>
<rect x="520.30" y="94.8" width="2.4" height="9.6" fill="#000"/>
<line x1="523.5" y1="99.1" x2="523.5" y2="117.5" stroke="#111" stroke-width="1"/>
<rect x="522.30" y="105.4" width="2.4" height="9.7" fill="#000"/>
<line x1="525.5" y1="101.4" x2="525.5" y2="119.8" stroke="#111" stroke-width="1"/>
<rect x="524.30" y="102.2" width="2.4" height="8.8" fill="#6e6e6e" stroke="#111" stroke-width="0.5"/>
<line x1="527.5" y1="97.4" x2="527.5" y2="116.8" stroke="#111" stroke-width="1"/>
<rect x="526.30" y="105.0" width="2.4" height="11.3" fill="#000"/>
<line x1="529.5" y1="92.2" x2="529.5" y2="112.9" stroke="#111" stroke-width="1"/>
<rect x="528.30" y="93.4" width="2.4" height="11.5" fill="#6e6e6e" stroke="#111" stroke-width="0.5"/>
<line x1="531.5" y1="83.0" x2="531.5" y2="108.3" stroke="#111" stroke-width="1"/>
<rect x="530.30" y="89.1" width="2.4" height="16.4" fill="#6e6e6e" stroke="#111" stroke-width="0.5"/>
<line x1="533.5" y1="87.6" x2="533.5" y2="103.7" stroke="#111" stroke-width="1"/>
<rect x="532.30" y="90.7" width="2.4" height="8.8" fill="#000"/>
<line x1="535.5" y1="89.9" x2="535.5" y2="101.4" stroke="#111" stroke-width="1"/>
<rect x="534.30" y="92.2" width="2.4" height="8.3" fill="#000"/>
<line x1="537.5" y1="92.2" x2="537.5" y2="106.0" stroke="#111" stroke-width="1"/>
<rect x="536.30" y="97.8" width="2.4" height="6.9" fill="#000"/>
<line x1="539.5" y1="103.7" x2="539.5" y2="129.0" stroke="#111" stroke-width="1"/>
<rect x="538.30" y="106.9" width="2.4" height="17.1" fill="#000"/>
<line x1="541.5" y1="114.0" x2="541.5" y2="128.0" stroke="#111" stroke-width="1"/>
<rect x="540.30" y="115.8" width="2.4" height="7.4" fill="#000"/>
<line x1="543.5" y1="117.1" x2="543.5" y2="125.7" stroke="#111" stroke-width="1"/>
<rect x="542.30" y="118.0" width="2.4" height="1.5" fill="#000"/>
</g>
<g clip-path="url(#vc)">
<g stroke="#e2e2e2" stroke-width="1" shape-rendering="crispEdges">
<line x1="38.5" y1="333" x2="38.5" y2="407"/>
<line x1="142.5" y1="333" x2="142.5" y2="407"/>
<line x1="248.5" y1="333" x2="248.5" y2="407"/>
<line x1="351.5" y1="333" x2="351.5" y2="407"/>
<line x1="454.5" y1="333" x2="454.5" y2="407"/>
<line x1="25" y1="339.5" x2="564" y2="339.5"/>
<line x1="25" y1="373.5" x2="564" y2="373.5"/>
</g>
<rect x="24.65" y="375.0" width="1.35" height="33.0" fill="#62a862"/>
<rect x="26.65" y="374.0" width="1.35" height="34.0" fill="#ec6c60"/>
<rect x="28.65" y="376.2" width="1.35" height="31.8" fill="#ec6c60"/>
<rect x="30.65" y="401.2" width="1.35" height="6.8" fill="#ec6c60"/>
<rect x="32.65" y="404.0" width="1.35" height="4.0" fill="#ec6c60"/>
<rect x="34.65" y="390.5" width="1.35" height="17.5" fill="#ec6c60"/>
<rect x="36.65" y="383.9" width="1.35" height="24.1" fill="#ec6c60"/>
<rect x="38.65" y="369.4" width="1.35" height="38.6" fill="#ec6c60"/>
<rect x="40.65" y="380.9" width="1.35" height="27.1" fill="#62a862"/>
<rect x="42.65" y="376.1" width="1.35" height="31.9" fill="#ec6c60"/>
<rect x="44.65" y="371.6" width="1.35" height="36.4" fill="#ec6c60"/>
<rect x="46.65" y="371.4" width="1.35" height="36.6" fill="#ec6c60"/>
<rect x="48.65" y="370.4" width="1.35" height="37.6" fill="#62a862"/>
<rect x="50.65" y="381.7" width="1.35" height="26.3" fill="#62a862"/>
<rect x="52.65" y="347.0" width="1.35" height="61.0" fill="#62a862"/>
<rect x="54.65" y="393.2" width="1.35" height="14.8" fill="#62a862"/>
<rect x="56.65" y="404.5" width="1.35" height="3.5" fill="#62a862"/>
<rect x="58.65" y="396.5" width="1.35" height="11.5" fill="#ec6c60"/>
<rect x="60.65" y="393.7" width="1.35" height="14.3" fill="#ec6c60"/>
<rect x="62.65" y="383.0" width="1.35" height="25.0" fill="#ec6c60"/>
<rect x="64.65" y="379.4" width="1.35" height="28.6" fill="#ec6c60"/>
<rect x="66.65" y="373.5" width="1.35" height="34.5" fill="#ec6c60"/>
<rect x="68.65" y="378.5" width="1.35" height="29.5" fill="#62a862"/>
<rect x="70.65" y="380.8" width="1.35" height="27.2" fill="#62a862"/>
<rect x="72.65" y="374.6" width="1.35" height="33.4" fill="#62a862"/>
<rect x="74.65" y="372.5" width="1.35" height="35.5" fill="#62a862"/>
<rect x="76.65" y="382.6" width="1.35" height="25.4" fill="#ec6c60"/>
<rect x="78.65" y="354.2" width="1.35" height="53.8" fill="#62a862"/>
<rect x="80.65" y="386.6" width="1.35" height="21.4" fill="#ec6c60"/>
<rect x="82.65" y="404.2" width="1.35" height="3.8" fill="#62a862"/>
<rect x="84.65" y="402.6" width="1.35" height="5.4" fill="#ec6c60"/>
<rect x="86.65" y="395.5" width="1.35" height="12.5" fill="#ec6c60"/>
<rect x="88.65" y="385.7" width="1.35" height="22.3" fill="#ec6c60"/>
<rect x="90.65" y="375.0" width="1.35" height="33.0" fill="#62a862"/>
<rect x="92.65" y="370.0" width="1.35" height="38.0" fill="#62a862"/>
<rect x="94.65" y="369.2" width="1.35" height="38.8" fill="#62a862"/>
<rect x="96.65" y="375.8" width="1.35" height="32.2" fill="#ec6c60"/>
<rect x="98.65" y="349.9" width="1.35" height="58.0" fill="#62a862"/>
<rect x="100.65" y="374.0" width="1.35" height="34.0" fill="#62a862"/>
<rect x="102.65" y="368.8" width="1.35" height="39.2" fill="#62a862"/>
<rect x="104.65" y="359.1" width="1.35" height="48.9" fill="#ec6c60"/>
<rect x="106.65" y="387.7" width="1.35" height="20.3" fill="#62a862"/>
<rect x="108.65" y="404.3" width="1.35" height="3.7" fill="#ec6c60"/>
<rect x="110.65" y="398.3" width="1.35" height="9.7" fill="#62a862"/>
<rect x="112.65" y="391.0" width="1.35" height="17.0" fill="#ec6c60"/>
<rect x="114.65" y="387.2" width="1.35" height="20.8" fill="#ec6c60"/>
<rect x="116.65" y="377.3" width="1.35" height="30.7" fill="#62a862"/>
<rect x="118.65" y="373.0" width="1.35" height="35.0" fill="#ec6c60"/>
<rect x="120.65" y="370.7" width="1.35" height="37.3" fill="#ec6c60"/>
<rect x="122.65" y="369.4" width="1.35" height="38.6" fill="#62a862"/>
<rect x="124.65" y="377.4" width="1.35" height="30.6" fill="#62a862"/>
<rect x="126.65" y="376.4" width="1.35" height="31.6" fill="#62a862"/>
<rect x="128.65" y="368.6" width="1.35" height="39.4" fill="#62a862"/>
<rect x="130.65" y="372.8" width="1.35" height="35.2" fill="#ec6c60"/>
<rect x="132.65" y="388.2" width="1.35" height="19.8" fill="#62a862"/>
<rect x="134.65" y="403.2" width="1.35" height="4.8" fill="#62a862"/>
<rect x="136.65" y="396.7" width="1.35" height="11.3" fill="#62a862"/>
<rect x="138.65" y="394.5" width="1.35" height="13.5" fill="#ec6c60"/>
<rect x="140.65" y="383.2" width="1.35" height="24.8" fill="#62a862"/>
<rect x="142.65" y="375.6" width="1.35" height="32.4" fill="#ec6c60"/>
<rect x="144.65" y="374.7" width="1.35" height="33.3" fill="#ec6c60"/>
<rect x="146.65" y="368.6" width="1.35" height="39.4" fill="#62a862"/>
<rect x="148.65" y="366.8" width="1.35" height="41.2" fill="#ec6c60"/>
<rect x="150.65" y="375.5" width="1.35" height="32.5" fill="#62a862"/>
<rect x="152.65" y="377.8" width="1.35" height="30.2" fill="#62a862"/>
<rect x="154.65" y="370.5" width="1.35" height="37.5" fill="#ec6c60"/>
<rect x="156.65" y="377.7" width="1.35" height="30.3" fill="#62a862"/>
<rect x="158.65" y="394.1" width="1.35" height="13.9" fill="#62a862"/>
<rect x="160.65" y="397.2" width="1.35" height="10.8" fill="#ec6c60"/>
<rect x="162.65" y="402.1" width="1.35" height="5.9" fill="#ec6c60"/>
<rect x="164.65" y="391.0" width="1.35" height="17.0" fill="#ec6c60"/>
<rect x="166.65" y="387.1" width="1.35" height="20.9" fill="#62a862"/>
<rect x="168.65" y="372.1" width="1.35" height="35.9" fill="#62a862"/>
<rect x="170.65" y="377.3" width="1.35" height="30.7" fill="#62a862"/>
<rect x="172.65" y="381.0" width="1.35" height="27.0" fill="#62a862"/>
<rect x="174.65" y="382.9" width="1.35" height="25.1" fill="#62a862"/>
<rect x="176.65" y="376.2" width="1.35" height="31.8" fill="#62a862"/>
<rect x="178.65" y="375.1" width="1.35" height="32.9" fill="#62a862"/>
<rect x="180.65" y="356.9" width="1.35" height="51.1" fill="#62a862"/>
<rect x="182.65" y="354.2" width="1.35" height="53.8" fill="#ec6c60"/>
<rect x="184.65" y="385.8" width="1.35" height="22.2" fill="#62a862"/>
<rect x="186.65" y="402.6" width="1.35" height="5.4" fill="#ec6c60"/>
<rect x="188.65" y="401.2" width="1.35" height="6.8" fill="#ec6c60"/>
<rect x="190.65" y="396.2" width="1.35" height="11.8" fill="#62a862"/>
<rect x="192.65" y="386.2" width="1.35" height="21.8" fill="#62a862"/>
<rect x="194.65" y="373.3" width="1.35" height="34.7" fill="#62a862"/>
<rect x="196.65" y="367.7" width="1.35" height="40.3" fill="#62a862"/>
<rect x="198.65" y="379.0" width="1.35" height="29.0" fill="#ec6c60"/>
<rect x="200.65" y="367.7" width="1.35" height="40.3" fill="#ec6c60"/>
<rect x="202.65" y="369.4" width="1.35" height="38.6" fill="#62a862"/>
<rect x="204.65" y="367.2" width="1.35" height="40.8" fill="#ec6c60"/>
<rect x="206.65" y="377.8" width="1.35" height="30.2" fill="#ec6c60"/>
<rect x="208.65" y="378.7" width="1.35" height="29.3" fill="#62a862"/>
<rect x="210.65" y="378.0" width="1.35" height="30.0" fill="#62a862"/>
<rect x="212.65" y="396.4" width="1.35" height="11.6" fill="#ec6c60"/>
<rect x="214.65" y="401.5" width="1.35" height="6.5" fill="#ec6c60"/>
<rect x="216.65" y="397.5" width="1.35" height="10.5" fill="#62a862"/>
<rect x="218.65" y="380.4" width="1.35" height="27.6" fill="#62a862"/>
<rect x="220.65" y="376.2" width="1.35" height="31.8" fill="#ec6c60"/>
<rect x="222.65" y="369.3" width="1.35" height="38.7" fill="#ec6c60"/>
<rect x="224.65" y="373.1" width="1.35" height="34.9" fill="#62a862"/>
<rect x="226.65" y="370.3" width="1.35" height="37.7" fill="#ec6c60"/>
<rect x="228.65" y="379.2" width="1.35" height="28.8" fill="#62a862"/>
<rect x="230.65" y="363.4" width="1.35" height="44.6" fill="#62a862"/>
<rect x="232.65" y="378.4" width="1.35" height="29.6" fill="#ec6c60"/>
<rect x="234.65" y="387.9" width="1.35" height="20.1" fill="#62a862"/>
<rect x="236.65" y="397.7" width="1.35" height="10.3" fill="#62a862"/>
<rect x="238.65" y="397.9" width="1.35" height="10.1" fill="#ec6c60"/>
<rect x="240.65" y="404.5" width="1.35" height="3.5" fill="#62a862"/>
<rect x="242.65" y="395.8" width="1.35" height="12.2" fill="#ec6c60"/>
<rect x="244.65" y="385.7" width="1.35" height="22.3" fill="#ec6c60"/>
<rect x="246.65" y="374.4" width="1.35" height="33.6" fill="#ec6c60"/>
<rect x="248.65" y="376.2" width="1.35" height="31.8" fill="#ec6c60"/>
<rect x="250.65" y="379.7" width="1.35" height="28.3" fill="#ec6c60"/>
<rect x="252.65" y="378.0" width="1.35" height="30.0" fill="#ec6c60"/>
<rect x="254.65" y="350.7" width="1.35" height="57.3" fill="#ec6c60"/>
<rect x="256.65" y="369.4" width="1.35" height="38.6" fill="#ec6c60"/>
<rect x="258.65" y="380.8" width="1.35" height="27.2" fill="#62a862"/>
<rect x="260.65" y="385.3" width="1.35" height="22.7" fill="#62a862"/>
<rect x="262.65" y="351.8" width="1.35" height="56.2" fill="#62a862"/>
<rect x="264.65" y="406.0" width="1.35" height="2.0" fill="#62a862"/>
<rect x="266.65" y="397.8" width="1.35" height="10.2" fill="#ec6c60"/>
<rect x="268.65" y="396.1" width="1.35" height="11.9" fill="#62a862"/>
<rect x="270.65" y="382.1" width="1.35" height="25.9" fill="#62a862"/>
<rect x="272.65" y="371.8" width="1.35" height="36.2" fill="#62a862"/>
<rect x="274.65" y="370.7" width="1.35" height="37.3" fill="#ec6c60"/>
<rect x="276.65" y="375.3" width="1.35" height="32.7" fill="#62a862"/>
<rect x="278.65" y="373.7" width="1.35" height="34.3" fill="#ec6c60"/>
<rect x="280.65" y="371.4" width="1.35" height="36.6" fill="#ec6c60"/>
<rect x="282.65" y="373.6" width="1.35" height="34.4" fill="#ec6c60"/>
<rect x="284.65" y="343.5" width="1.35" height="64.5" fill="#ec6c60"/>
<rect x="286.65" y="338.0" width="1.35" height="70.0" fill="#ec6c60"/>
<rect x="288.65" y="401.9" width="1.35" height="6.1" fill="#ec6c60"/>
<rect x="290.65" y="406.1" width="1.35" height="1.9" fill="#ec6c60"/>
<rect x="292.65" y="400.1" width="1.35" height="7.9" fill="#ec6c60"/>
<rect x="294.65" y="395.5" width="1.35" height="12.5" fill="#ec6c60"/>
<rect x="296.65" y="365.0" width="1.35" height="43.0" fill="#62a862"/>
<rect x="298.65" y="377.1" width="1.35" height="30.9" fill="#ec6c60"/>
<rect x="300.65" y="376.9" width="1.35" height="31.1" fill="#62a862"/>
<rect x="302.65" y="380.5" width="1.35" height="27.5" fill="#62a862"/>
<rect x="304.65" y="383.6" width="1.35" height="24.4" fill="#ec6c60"/>
<rect x="306.65" y="380.3" width="1.35" height="27.7" fill="#62a862"/>
<rect x="308.65" y="384.4" width="1.35" height="23.6" fill="#ec6c60"/>
<rect x="310.65" y="384.2" width="1.35" height="23.8" fill="#ec6c60"/>
<rect x="312.65" y="390.8" width="1.35" height="17.2" fill="#ec6c60"/>
<rect x="314.65" y="405.5" width="1.35" height="2.5" fill="#62a862"/>
<rect x="316.65" y="401.9" width="1.35" height="6.1" fill="#62a862"/>
<rect x="318.65" y="401.2" width="1.35" height="6.8" fill="#ec6c60"/>
<rect x="320.65" y="398.6" width="1.35" height="9.4" fill="#62a862"/>
<rect x="322.65" y="385.7" width="1.35" height="22.3" fill="#ec6c60"/>
<rect x="324.65" y="382.9" width="1.35" height="25.1" fill="#62a862"/>
<rect x="326.65" y="375.1" width="1.35" height="32.9" fill="#62a862"/>
<rect x="328.65" y="374.6" width="1.35" height="33.4" fill="#ec6c60"/>
<rect x="330.65" y="377.8" width="1.35" height="30.2" fill="#ec6c60"/>
<rect x="332.65" y="383.3" width="1.35" height="24.7" fill="#62a862"/>
<rect x="334.65" y="377.9" width="1.35" height="30.1" fill="#ec6c60"/>
<rect x="336.65" y="379.4" width="1.35" height="28.6" fill="#62a862"/>
<rect x="338.65" y="367.1" width="1.35" height="40.9" fill="#62a862"/>
<rect x="340.65" y="405.0" width="1.35" height="3.0" fill="#ec6c60"/>
<rect x="342.65" y="397.6" width="1.35" height="10.4" fill="#62a862"/>
<rect x="344.65" y="396.2" width="1.35" height="11.8" fill="#ec6c60"/>
<rect x="346.65" y="391.8" width="1.35" height="16.2" fill="#62a862"/>
<rect x="348.65" y="383.2" width="1.35" height="24.8" fill="#ec6c60"/>
<rect x="350.65" y="380.6" width="1.35" height="27.4" fill="#62a862"/>
<rect x="352.65" y="370.8" width="1.35" height="37.2" fill="#ec6c60"/>
<rect x="354.65" y="376.9" width="1.35" height="31.1" fill="#62a862"/>
<rect x="356.65" y="371.1" width="1.35" height="36.9" fill="#62a862"/>
<rect x="358.65" y="371.6" width="1.35" height="36.4" fill="#ec6c60"/>
<rect x="360.65" y="381.0" width="1.35" height="27.0" fill="#62a862"/>
<rect x="362.65" y="373.2" width="1.35" height="34.8" fill="#ec6c60"/>
<rect x="364.65" y="359.6" width="1.35" height="48.4" fill="#62a862"/>
<rect x="366.65" y="405.7" width="1.35" height="2.3" fill="#62a862"/>
<rect x="368.65" y="402.8" width="1.35" height="5.2" fill="#ec6c60"/>
<rect x="370.65" y="392.1" width="1.35" height="15.9" fill="#ec6c60"/>
<rect x="372.65" y="390.0" width="1.35" height="18.0" fill="#62a862"/>
<rect x="374.65" y="373.1" width="1.35" height="34.9" fill="#62a862"/>
<rect x="376.65" y="380.6" width="1.35" height="27.4" fill="#62a862"/>
<rect x="378.65" y="374.1" width="1.35" height="33.9" fill="#ec6c60"/>
<rect x="380.65" y="382.2" width="1.35" height="25.8" fill="#62a862"/>
<rect x="382.65" y="377.9" width="1.35" height="30.1" fill="#62a862"/>
<rect x="384.65" y="372.8" width="1.35" height="35.2" fill="#ec6c60"/>
<rect x="386.65" y="381.4" width="1.35" height="26.6" fill="#62a862"/>
<rect x="388.65" y="380.8" width="1.35" height="27.2" fill="#ec6c60"/>
<rect x="390.65" y="353.2" width="1.35" height="54.8" fill="#62a862"/>
<rect x="392.65" y="403.1" width="1.35" height="4.9" fill="#ec6c60"/>
<rect x="394.65" y="406.0" width="1.35" height="2.0" fill="#ec6c60"/>
<rect x="396.65" y="396.6" width="1.35" height="11.4" fill="#ec6c60"/>
<rect x="398.65" y="388.7" width="1.35" height="19.3" fill="#62a862"/>
<rect x="400.65" y="370.1" width="1.35" height="37.9" fill="#ec6c60"/>
<rect x="402.65" y="373.4" width="1.35" height="34.6" fill="#62a862"/>
<rect x="404.65" y="370.6" width="1.35" height="37.4" fill="#ec6c60"/>
<rect x="406.65" y="380.0" width="1.35" height="28.0" fill="#62a862"/>
<rect x="408.65" y="358.6" width="1.35" height="49.4" fill="#ec6c60"/>
<rect x="410.65" y="380.7" width="1.35" height="27.3" fill="#62a862"/>
<rect x="412.65" y="365.0" width="1.35" height="43.0" fill="#62a862"/>
<rect x="414.65" y="374.0" width="1.35" height="34.0" fill="#62a862"/>
<rect x="416.65" y="389.3" width="1.35" height="18.7" fill="#ec6c60"/>
<rect x="418.65" y="397.5" width="1.35" height="10.5" fill="#62a862"/>
<rect x="420.65" y="400.7" width="1.35" height="7.3" fill="#ec6c60"/>
<rect x="422.65" y="388.6" width="1.35" height="19.4" fill="#ec6c60"/>
<rect x="424.65" y="374.7" width="1.35" height="33.3" fill="#62a862"/>
<rect x="426.65" y="373.6" width="1.35" height="34.4" fill="#62a862"/>
<rect x="428.65" y="359.1" width="1.35" height="48.9" fill="#62a862"/>
<rect x="430.65" y="338.1" width="1.35" height="69.9" fill="#62a862"/>
<rect x="432.65" y="368.9" width="1.35" height="39.1" fill="#62a862"/>
<rect x="434.65" y="362.3" width="1.35" height="45.7" fill="#ec6c60"/>
<rect x="436.65" y="371.0" width="1.35" height="37.0" fill="#62a862"/>
<rect x="438.65" y="359.1" width="1.35" height="48.9" fill="#62a862"/>
<rect x="440.65" y="365.9" width="1.35" height="42.1" fill="#62a862"/>
<rect x="442.65" y="384.3" width="1.35" height="23.7" fill="#62a862"/>
<rect x="444.65" y="398.6" width="1.35" height="9.4" fill="#ec6c60"/>
<rect x="446.65" y="401.9" width="1.35" height="6.1" fill="#62a862"/>
<rect x="448.65" y="393.6" width="1.35" height="14.4" fill="#ec6c60"/>
<rect x="450.65" y="376.4" width="1.35" height="31.6" fill="#62a862"/>
<rect x="452.65" y="374.5" width="1.35" height="33.5" fill="#62a862"/>
<rect x="454.65" y="361.9" width="1.35" height="46.1" fill="#62a862"/>
<rect x="456.65" y="371.2" width="1.35" height="36.8" fill="#62a862"/>
<rect x="458.65" y="364.9" width="1.35" height="43.1" fill="#ec6c60"/>
<rect x="460.65" y="359.2" width="1.35" height="48.8" fill="#62a862"/>
<rect x="462.65" y="365.7" width="1.35" height="42.3" fill="#ec6c60"/>
<rect x="464.65" y="364.5" width="1.35" height="43.5" fill="#62a862"/>
<rect x="466.65" y="370.2" width="1.35" height="37.8" fill="#ec6c60"/>
<rect x="468.65" y="356.4" width="1.35" height="51.6" fill="#62a862"/>
<rect x="470.65" y="406.0" width="1.35" height="2.0" fill="#62a862"/>
<rect x="472.65" y="404.9" width="1.35" height="3.1" fill="#ec6c60"/>
<rect x="474.65" y="396.0" width="1.35" height="12.0" fill="#62a862"/>
<rect x="476.65" y="391.2" width="1.35" height="16.8" fill="#62a862"/>
<rect x="478.65" y="383.1" width="1.35" height="24.9" fill="#ec6c60"/>
<rect x="480.65" y="379.4" width="1.35" height="28.6" fill="#62a862"/>
<rect x="482.65" y="386.9" width="1.35" height="21.1" fill="#ec6c60"/>
<rect x="484.65" y="386.0" width="1.35" height="22.0" fill="#ec6c60"/>
<rect x="486.65" y="381.8" width="1.35" height="26.2" fill="#ec6c60"/>
<rect x="488.65" y="388.0" width="1.35" height="20.0" fill="#ec6c60"/>
<rect x="490.65" y="372.5" width="1.35" height="35.5" fill="#ec6c60"/>
<rect x="492.65" y="384.7" width="1.35" height="23.3" fill="#ec6c60"/>
<rect x="494.65" y="396.8" width="1.35" height="11.2" fill="#62a862"/>
<rect x="496.65" y="402.7" width="1.35" height="5.3" fill="#ec6c60"/>
<rect x="498.65" y="404.1" width="1.35" height="3.9" fill="#62a862"/>
<rect x="500.65" y="395.7" width="1.35" height="12.3" fill="#ec6c60"/>
<rect x="502.65" y="389.3" width="1.35" height="18.7" fill="#62a862"/>
<rect x="504.65" y="385.3" width="1.35" height="22.7" fill="#62a862"/>
<rect x="506.65" y="380.9" width="1.35" height="27.1" fill="#ec6c60"/>
<rect x="508.65" y="382.5" width="1.35" height="25.5" fill="#62a862"/>
<rect x="510.65" y="386.0" width="1.35" height="22.0" fill="#ec6c60"/>
<rect x="512.65" y="377.7" width="1.35" height="30.3" fill="#62a862"/>
<rect x="514.65" y="384.8" width="1.35" height="23.2" fill="#62a862"/>
<rect x="516.65" y="385.8" width="1.35" height="22.2" fill="#ec6c60"/>
<rect x="518.65" y="358.0" width="1.35" height="50.0" fill="#ec6c60"/>
<rect x="520.65" y="389.4" width="1.35" height="18.6" fill="#ec6c60"/>
<rect x="522.65" y="397.5" width="1.35" height="10.5" fill="#ec6c60"/>
<rect x="524.65" y="398.4" width="1.35" height="9.6" fill="#62a862"/>
<rect x="526.65" y="397.6" width="1.35" height="10.4" fill="#ec6c60"/>
<rect x="528.65" y="392.4" width="1.35" height="15.6" fill="#62a862"/>
<rect x="530.65" y="388.1" width="1.35" height="19.9" fill="#62a862"/>
<rect x="532.65" y="381.8" width="1.35" height="26.2" fill="#ec6c60"/>
<rect x="534.65" y="382.7" width="1.35" height="25.3" fill="#ec6c60"/>
<rect x="536.65" y="384.8" width="1.35" height="23.2" fill="#ec6c60"/>
<rect x="538.65" y="381.8" width="1.35" height="26.2" fill="#ec6c60"/>
<rect x="540.65" y="383.8" width="1.35" height="24.2" fill="#62a862"/>
<rect x="542.65" y="385.4" width="1.35" height="22.6" fill="#62a862"/>
<polyline points="24.0,365.9 24.5,365.7 25.0,365.6 25.5,365.4 26.0,365.3 26.5,365.9 27.0,368.9 27.5,373.7 28.0,379.8 28.5,386.5 29.0,393.2 29.5,399.1 30.0,403.7 30.5,406.4 31.0,406.8 31.5,406.8 32.0,406.8 32.5,406.8 33.0,406.8 33.5,406.8 34.0,406.8 34.5,404.8 35.0,395.9 35.5,388.3 36.0,382.2 36.5,377.3 37.0,373.8 37.5,371.4 38.0,370.1 38.5,369.7 39.0,369.6 39.5,369.6 40.0,369.5 40.5,369.4 41.0,369.3 41.5,369.2 42.0,369.2 42.5,369.1 43.0,369.0 43.5,368.9 44.0,368.9 44.5,368.8 45.0,368.7 45.5,368.6 46.0,368.6 46.5,368.5 47.0,368.4 47.5,368.3 48.0,368.2 48.5,368.2 49.0,368.1 49.5,368.0 50.0,367.9 50.5,367.9 51.0,367.8 51.5,367.7 52.0,367.6 52.5,368.9 53.0,372.4 53.5,377.4 54.0,383.4 54.5,389.7 55.0,395.9 55.5,401.1 56.0,404.9 56.5,406.7 57.0,406.8 57.5,406.8 58.0,406.8 58.5,406.8 59.0,406.8 59.5,406.8 60.0,406.8 60.5,401.5 61.0,392.6 61.5,385.1 62.0,379.0 62.5,374.3 63.0,371.0 63.5,368.8 64.0,367.8 64.5,367.5 65.0,367.3 65.5,367.0 66.0,366.7 66.5,366.5 67.0,366.2 67.5,365.9 68.0,365.7 68.5,365.4 69.0,365.1 69.5,364.9 70.0,364.6 70.5,364.3 71.0,364.1 71.5,363.8 72.0,363.5 72.5,363.3 73.0,363.0 73.5,362.7 74.0,362.5 74.5,362.2 75.0,361.9 75.5,361.6 76.0,361.4 76.5,361.1 77.0,360.8 77.5,360.6 78.0,360.6 78.5,363.0 79.0,367.7 79.5,374.1 80.0,381.5 80.5,389.0 81.0,396.0 81.5,401.7 82.0,405.6 82.5,406.8 83.0,406.8 83.5,406.8 84.0,406.8 84.5,406.8 85.0,406.8 85.5,406.8 86.0,406.8 86.5,397.8 87.0,388.7 87.5,381.1 88.0,375.1 88.5,370.5 89.0,367.3 89.5,365.3 90.0,364.6 90.5,364.5 91.0,364.5 91.5,364.5 92.0,364.5 92.5,364.5 93.0,364.5 93.5,364.5 94.0,364.5 94.5,364.5 95.0,364.5 95.5,364.5 96.0,364.5 96.5,364.5 97.0,364.5 97.5,364.5 98.0,364.5 98.5,364.5 99.0,364.5 99.5,364.5 100.0,364.5 100.5,364.5 101.0,364.5 101.5,364.5 102.0,364.5 102.5,364.5 103.0,364.5 103.5,364.5 104.0,365.1 104.5,368.1 105.0,373.0 105.5,379.1 106.0,385.9 106.5,392.7 107.0,398.8 107.5,403.5 108.0,406.3 108.5,406.8 109.0,406.8 109.5,406.8 110.0,406.8 110.5,406.8 111.0,406.8 111.5,406.8 112.0,404.9 112.5,394.3 113.0,385.4 113.5,378.1 114.0,372.3 114.5,368.1 115.0,365.2 115.5,363.6 116.0,363.2 116.5,363.2 117.0,363.3 117.5,363.3 118.0,363.4 118.5,363.4 119.0,363.5 119.5,363.5 120.0,363.6 120.5,363.6 121.0,363.7 121.5,363.7 122.0,363.8 122.5,363.8 123.0,363.9 123.5,363.9 124.0,364.0 124.5,364.0 125.0,364.1 125.5,364.1 126.0,364.2 126.5,364.2 127.0,364.3 127.5,364.3 128.0,364.4 128.5,364.4 129.0,364.5 129.5,364.5 130.0,365.8 130.5,369.5 131.0,374.8 131.5,381.3 132.0,388.1 132.5,394.7 133.0,400.5 133.5,404.7 134.0,406.7 134.5,406.8 135.0,406.8 135.5,406.8 136.0,406.8 136.5,406.8 137.0,406.8 137.5,406.8 138.0,401.6 138.5,392.0 139.0,384.0 139.5,377.5 140.0,372.5 140.5,368.9 141.0,366.6 141.5,365.4 142.0,365.2 142.5,365.2 143.0,365.1 143.5,365.1 144.0,365.1 144.5,365.0 145.0,365.0 145.5,364.9 146.0,364.9 146.5,364.9 147.0,364.8 147.5,364.8 148.0,364.7 148.5,364.7 149.0,364.7 149.5,364.6 150.0,364.6 150.5,364.6 151.0,364.5 151.5,364.5 152.0,364.4 152.5,364.4 153.0,364.4 153.5,364.3 154.0,364.3 154.5,364.3 155.0,364.2 155.5,364.3 156.0,366.4 156.5,370.7 157.0,376.6 157.5,383.3 158.0,390.2 158.5,396.6 159.0,402.0 159.5,405.6 160.0,406.8 160.5,406.8 161.0,406.8 161.5,406.8 162.0,406.8 162.5,406.8 163.0,406.8 163.5,406.8 164.0,398.8 164.5,390.3 165.0,383.2 165.5,377.6 166.0,373.3 166.5,370.3 167.0,368.4 167.5,367.7 168.0,367.5 168.5,367.4 169.0,367.2 169.5,367.0 170.0,366.9 170.5,366.7 171.0,366.5 171.5,366.4 172.0,366.2 172.5,366.0 173.0,365.9 173.5,365.7 174.0,365.5 174.5,365.4 175.0,365.2 175.5,365.0 176.0,364.9 176.5,364.7 177.0,364.5 177.5,364.4 178.0,364.2 178.5,364.0 179.0,363.9 179.5,363.7 180.0,363.5 180.5,363.4 181.0,363.2 181.5,363.7 182.0,366.6 182.5,371.6 183.0,378.0 183.5,385.0 184.0,392.0 184.5,398.3 185.0,403.3 185.5,406.2 186.0,406.8 186.5,406.8 187.0,406.8 187.5,406.8 188.0,406.8 188.5,406.8 189.0,406.8 189.5,405.4 190.0,394.7 190.5,385.7 191.0,378.4 191.5,372.5 192.0,368.2 192.5,365.3 193.0,363.7 193.5,363.2 194.0,363.2 194.5,363.3 195.0,363.4 195.5,363.5 196.0,363.5 196.5,363.6 197.0,363.7 197.5,363.8 198.0,363.8 198.5,363.9 199.0,364.0 199.5,364.1 200.0,364.1 200.5,364.2 201.0,364.3 201.5,364.4 202.0,364.4 202.5,364.5 203.0,364.6 203.5,364.7 204.0,364.8 204.5,364.8 205.0,364.9 205.5,365.0 206.0,365.1 206.5,365.1 207.0,365.2 207.5,366.4 208.0,369.9 208.5,375.1 209.0,381.4 209.5,388.2 210.0,394.7 210.5,400.4 211.0,404.6 211.5,406.6 212.0,406.8 212.5,406.8 213.0,406.8 213.5,406.8 214.0,406.8 214.5,406.8 215.0,406.8 215.5,402.4 216.0,393.6 216.5,386.2 217.0,380.2 217.5,375.5 218.0,372.1 218.5,370.0 219.0,368.9 219.5,368.6 220.0,368.5 220.5,368.3 221.0,368.2 221.5,368.0 222.0,367.9 222.5,367.7 223.0,367.6 223.5,367.4 224.0,367.3 224.5,367.1 225.0,366.9 225.5,366.8 226.0,366.6 226.5,366.5 227.0,366.3 227.5,366.2 228.0,366.0 228.5,365.9 229.0,365.7 229.5,365.6 230.0,365.4 230.5,365.3 231.0,365.1 231.5,365.0 232.0,364.8 232.5,364.6 233.0,364.6 233.5,366.6 234.0,370.8 234.5,376.6 235.0,383.2 235.5,390.0 236.0,396.5 236.5,401.8 237.0,405.5 237.5,406.8 238.0,406.8 238.5,406.8 239.0,406.8 239.5,406.8 240.0,406.8 240.5,406.8 241.0,406.8 241.5,399.8 242.0,391.9 242.5,385.3 243.0,380.1 243.5,376.1 244.0,373.2 244.5,371.5 245.0,370.8 245.5,370.6 246.0,370.4 246.5,370.2 247.0,370.0 247.5,369.8 248.0,369.6 248.5,369.4 249.0,369.2 249.5,369.0 250.0,368.8 250.5,368.6 251.0,368.4 251.5,368.2 252.0,368.0 252.5,367.8 253.0,367.6 253.5,367.4 254.0,367.1 254.5,366.9 255.0,366.7 255.5,366.5 256.0,366.3 256.5,366.1 257.0,365.9 257.5,365.7 258.0,365.5 258.5,365.3 259.0,365.7 259.5,368.4 260.0,373.1 260.5,379.1 261.0,385.7 261.5,392.4 262.0,398.5 262.5,403.3 263.0,406.2 263.5,406.8 264.0,406.8 264.5,406.8 265.0,406.8 265.5,406.8 266.0,406.8 266.5,406.8 267.0,405.9 267.5,395.7 268.0,387.0 268.5,380.0 269.0,374.4 269.5,370.2 270.0,367.3 270.5,365.7 271.0,365.2 271.5,365.0 272.0,364.7 272.5,364.4 273.0,364.1 273.5,363.8 274.0,363.6 274.5,363.3 275.0,363.0 275.5,362.7 276.0,362.4 276.5,362.2 277.0,361.9 277.5,361.6 278.0,361.3 278.5,361.0 279.0,360.8 279.5,360.5 280.0,360.2 280.5,359.9 281.0,359.6 281.5,359.4 282.0,359.1 282.5,358.8 283.0,358.5 283.5,358.2 284.0,357.9 284.5,357.7 285.0,358.9 285.5,362.9 286.0,369.1 286.5,376.5 287.0,384.4 287.5,392.2 288.0,399.0 288.5,404.0 289.0,406.6 289.5,406.8 290.0,406.8 290.5,406.8 291.0,406.8 291.5,406.8 292.0,406.8 292.5,406.8 293.0,402.7 293.5,393.6 294.0,385.9 294.5,379.7 295.0,374.8 295.5,371.3 296.0,369.0 296.5,367.9 297.0,367.6 297.5,367.6 298.0,367.6 298.5,367.5 299.0,367.5 299.5,367.4 300.0,367.4 300.5,367.4 301.0,367.3 301.5,367.3 302.0,367.2 302.5,367.2 303.0,367.2 303.5,367.1 304.0,367.1 304.5,367.1 305.0,367.0 305.5,367.0 306.0,366.9 306.5,366.9 307.0,366.9 307.5,366.8 308.0,366.8 308.5,366.7 309.0,366.7 309.5,366.7 310.0,366.6 310.5,366.7 311.0,368.5 311.5,372.4 312.0,377.8 312.5,384.1 313.0,390.6 313.5,396.7 314.0,401.9 314.5,405.4 315.0,406.8 315.5,406.8 316.0,406.8 316.5,406.8 317.0,406.8 317.5,406.8 318.0,406.8 318.5,406.8 319.0,398.9 319.5,389.4 320.0,381.5 320.5,375.2 321.0,370.4 321.5,366.9 322.0,364.8 322.5,363.9 323.0,363.8 323.5,363.7 324.0,363.6 324.5,363.6 325.0,363.5 325.5,363.4 326.0,363.3 326.5,363.3 327.0,363.2 327.5,363.1 328.0,363.0 328.5,363.0 329.0,362.9 329.5,362.8 330.0,362.7 330.5,362.7 331.0,362.6 331.5,362.5 332.0,362.4 332.5,362.3 333.0,362.3 333.5,362.2 334.0,362.1 334.5,362.0 335.0,362.0 335.5,361.9 336.0,361.8 336.5,362.2 337.0,365.0 337.5,370.0 338.0,376.5 338.5,383.7 339.0,390.9 339.5,397.5 340.0,402.8 340.5,406.1 341.0,406.8 341.5,406.8 342.0,406.8 342.5,406.8 343.0,406.8 343.5,406.8 344.0,406.8 344.5,406.3 345.0,395.4 345.5,386.2 346.0,378.7 346.5,372.7 347.0,368.2 347.5,365.1 348.0,363.4 348.5,362.8 349.0,362.7 349.5,362.6 350.0,362.6 350.5,362.5 351.0,362.4 351.5,362.3 352.0,362.2 352.5,362.1 353.0,362.0 353.5,361.9 354.0,361.8 354.5,361.7 355.0,361.7 355.5,361.6 356.0,361.5 356.5,361.4 357.0,361.3 357.5,361.2 358.0,361.1 358.5,361.0 359.0,360.9 359.5,360.9 360.0,360.8 360.5,360.7 361.0,360.6 361.5,360.5 362.0,360.4 362.5,361.5 363.0,365.2 363.5,370.9 364.0,377.9 364.5,385.4 365.0,392.7 365.5,399.2 366.0,404.0 366.5,406.6 367.0,406.8 367.5,406.8 368.0,406.8 368.5,406.8 369.0,406.8 369.5,406.8 370.0,406.8 370.5,402.2 371.0,390.9 371.5,381.5 372.0,373.7 372.5,367.7 373.0,363.3 373.5,360.5 374.0,359.0 374.5,358.6 375.0,358.4 375.5,358.2 376.0,358.0 376.5,357.8 377.0,357.5 377.5,357.3 378.0,357.1 378.5,356.9 379.0,356.7 379.5,356.5 380.0,356.2 380.5,356.0 381.0,355.8 381.5,355.6 382.0,355.4 382.5,355.2 383.0,354.9 383.5,354.7 384.0,354.5 384.5,354.3 385.0,354.1 385.5,353.9 386.0,353.6 386.5,353.4 387.0,353.2 387.5,353.0 388.0,352.8 388.5,355.2 389.0,360.3 389.5,367.5 390.0,375.9 390.5,384.7 391.0,393.0 391.5,400.0 392.0,404.8 392.5,406.8 393.0,406.8 393.5,406.8 394.0,406.8 394.5,406.8 395.0,406.8 395.5,406.8 396.0,406.8 396.5,398.2 397.0,387.3 397.5,378.2 398.0,370.9 398.5,365.3 399.0,361.3 399.5,358.8 400.0,357.7 400.5,357.5 401.0,357.3 401.5,357.1 402.0,356.9 402.5,356.7 403.0,356.5 403.5,356.3 404.0,356.1 404.5,355.9 405.0,355.7 405.5,355.5 406.0,355.3 406.5,355.1 407.0,354.9 407.5,354.7 408.0,354.5 408.5,354.3 409.0,354.1 409.5,353.9 410.0,353.6 410.5,353.4 411.0,353.2 411.5,353.0 412.0,352.8 412.5,352.6 413.0,352.4 413.5,352.2 414.0,352.5 414.5,355.9 415.0,361.9 415.5,369.7 416.0,378.4 416.5,387.2 417.0,395.3 417.5,401.7 418.0,405.8 418.5,406.8 419.0,406.8 419.5,406.8 420.0,406.8 420.5,406.8 421.0,406.8 421.5,406.8 422.0,406.8 422.5,392.0 423.0,379.4 423.5,369.1 424.0,360.9 424.5,354.8 425.0,350.6 425.5,348.1 426.0,347.3 426.5,347.4 427.0,347.6 427.5,347.8 428.0,348.0 428.5,348.1 429.0,348.3 429.5,348.5 430.0,348.7 430.5,348.9 431.0,349.0 431.5,349.2 432.0,349.4 432.5,349.6 433.0,349.7 433.5,349.9 434.0,350.1 434.5,350.3 435.0,350.5 435.5,350.6 436.0,350.8 436.5,351.0 437.0,351.2 437.5,351.4 438.0,351.5 438.5,351.7 439.0,351.9 439.5,352.1 440.0,353.3 440.5,357.6 441.0,364.2 441.5,372.4 442.0,381.2 442.5,389.9 443.0,397.5 443.5,403.3 444.0,406.5 444.5,406.8 445.0,406.8 445.5,406.8 446.0,406.8 446.5,406.8 447.0,406.8 447.5,406.8 448.0,401.7 448.5,387.4 449.0,375.4 449.5,365.6 450.0,357.9 450.5,352.3 451.0,348.6 451.5,346.7 452.0,346.3 452.5,346.9 453.0,347.5 453.5,348.1 454.0,348.7 454.5,349.3 455.0,349.8 455.5,350.4 456.0,351.0 456.5,351.6 457.0,352.2 457.5,352.8 458.0,353.4 458.5,354.0 459.0,354.5 459.5,355.1 460.0,355.7 460.5,356.3 461.0,356.9 461.5,357.5 462.0,358.1 462.5,358.7 463.0,359.2 463.5,359.8 464.0,360.4 464.5,361.0 465.0,361.6 465.5,362.1 466.0,363.9 466.5,368.1 467.0,374.0 467.5,381.0 468.0,388.2 468.5,395.1 469.0,400.9 469.5,405.1 470.0,406.7 470.5,406.8 471.0,406.8 471.5,406.8 472.0,406.8 472.5,406.8 473.0,406.8 473.5,406.8 474.0,401.9 474.5,395.3 475.0,389.8 475.5,385.4 476.0,382.0 476.5,379.6 477.0,378.1 477.5,377.4 478.0,377.2 478.5,377.1 479.0,377.0 479.5,376.9 480.0,376.8 480.5,376.7 481.0,376.6 481.5,376.4 482.0,376.3 482.5,376.2 483.0,376.1 483.5,376.0 484.0,375.9 484.5,375.7 485.0,375.6 485.5,375.5 486.0,375.4 486.5,375.3 487.0,375.2 487.5,375.1 488.0,374.9 488.5,374.8 489.0,374.7 489.5,374.6 490.0,374.5 490.5,374.4 491.0,374.3 491.5,374.4 492.0,376.3 492.5,379.8 493.0,384.4 493.5,389.6 494.0,394.9 494.5,399.7 495.0,403.6 495.5,406.1 496.0,406.8 496.5,406.8 497.0,406.8 497.5,406.8 498.0,406.8 498.5,406.8 499.0,406.8 499.5,406.8 500.0,399.1 500.5,392.4 501.0,386.8 501.5,382.3 502.0,379.0 502.5,376.7 503.0,375.4 503.5,374.9 504.0,374.8 504.5,374.7 505.0,374.6 505.5,374.5 506.0,374.4 506.5,374.3 507.0,374.2 507.5,374.1 508.0,374.0 508.5,373.9 509.0,373.8 509.5,373.7 510.0,373.6 510.5,373.5 511.0,373.4 511.5,373.3 512.0,373.2 512.5,373.1 513.0,373.0 513.5,372.9 514.0,372.8 514.5,372.7 515.0,372.6 515.5,372.5 516.0,372.3 516.5,372.2 517.0,372.1 517.5,372.8 518.0,375.4 518.5,379.6 519.0,384.7 519.5,390.3 520.0,395.9 520.5,400.7 521.0,404.5 521.5,406.5 522.0,406.8 522.5,406.8 523.0,406.8 523.5,406.8 524.0,406.8 524.5,406.8 525.0,406.8 525.5,404.2 526.0,396.0 526.5,389.0 527.0,383.4 527.5,378.9 528.0,375.7 528.5,373.5 529.0,372.4 529.5,372.1 530.0,372.3 530.5,372.4 531.0,372.6 531.5,372.7 532.0,372.9 532.5,373.1 533.0,373.2 533.5,373.4 534.0,373.5 534.5,373.7 535.0,373.8 535.5,374.0 536.0,374.1 536.5,374.3 537.0,374.4 537.5,374.6 538.0,374.7 538.5,374.9 539.0,375.0 539.5,375.2 540.0,375.4 540.5,375.5 541.0,375.7 541.5,375.8 542.0,376.0 542.5,376.1 543.0,376.3 543.5,377.4" fill="none" stroke="#a244ec" stroke-width="1.2" stroke-linejoin="round"/>
</g>
<rect x="29" y="20.5" width="6.5" height="6.5" fill="#000"/>
<text x="39.0" y="27" font-size="9.9" fill="#111" textLength="193.5" lengthAdjust="spacingAndGlyphs">Op:154-01, Hi:154-07, Lo:152-18, Cl:153-24</text>
<rect x="254.5" y="21" width="5.5" height="5.5" fill="#a8a8ec" stroke="#3a3a80" stroke-width="1"/>
<text x="263.7" y="27" font-size="9.9" fill="#111" textLength="149.5" lengthAdjust="spacingAndGlyphs">BBANDS (20, 2): 150-20 - 161-09</text>
<rect x="434.5" y="21" width="5.5" height="5.5" fill="#d80000" stroke="#700" stroke-width="0.6"/>
<text x="444.7" y="27" font-size="9.9" fill="#111" textLength="76" lengthAdjust="spacingAndGlyphs">SMA (20): 155-31</text>
<rect x="29" y="325.6" width="6" height="5.8" fill="#0a640a" stroke="#000" stroke-width="0.7"/>
<text x="38.6" y="331.6" font-size="9.3" fill="#111" textLength="51.5" lengthAdjust="spacingAndGlyphs">Vol: 210,602</text>
<rect x="113" y="325.6" width="5.6" height="5.8" fill="#9010e0" stroke="#000" stroke-width="0.7"/>
<text x="122.2" y="331.6" font-size="9.3" fill="#111" textLength="94.3" lengthAdjust="spacingAndGlyphs">Open Interest: 459,463</text>
<line x1="24" y1="17.5" x2="571.5" y2="17.5" stroke="#333" stroke-width="1.5"/>
<line x1="24.6" y1="16.5" x2="24.6" y2="408.5" stroke="#444" stroke-width="1.1"/>
<line x1="571" y1="16.5" x2="571" y2="408.5" stroke="#555" stroke-width="1.4"/>
<line x1="24" y1="321" x2="571.5" y2="321" stroke="#111" stroke-width="2"/>
<line x1="24" y1="407.8" x2="571.5" y2="407.8" stroke="#333" stroke-width="1.3"/>
<line x1="566" y1="321.0" x2="570.5" y2="321.0" stroke="#333" stroke-width="1"/>
<text x="574.0" y="324.6" font-size="10.0" fill="#111">115-00</text>
<line x1="566" y1="295.0" x2="570.5" y2="295.0" stroke="#333" stroke-width="1"/>
<text x="574.0" y="298.6" font-size="10.0" fill="#111">120-00</text>
<line x1="566" y1="269.0" x2="570.5" y2="269.0" stroke="#333" stroke-width="1"/>
<text x="574.0" y="272.6" font-size="10.0" fill="#111">125-00</text>
<line x1="566" y1="243.0" x2="570.5" y2="243.0" stroke="#333" stroke-width="1"/>
<text x="574.0" y="246.6" font-size="10.0" fill="#111">130-00</text>
<line x1="566" y1="217.0" x2="570.5" y2="217.0" stroke="#333" stroke-width="1"/>
<text x="574.0" y="220.6" font-size="10.0" fill="#111">135-00</text>
<line x1="566" y1="191.0" x2="570.5" y2="191.0" stroke="#333" stroke-width="1"/>
<text x="574.0" y="194.6" font-size="10.0" fill="#111">140-00</text>
<line x1="566" y1="165.0" x2="570.5" y2="165.0" stroke="#333" stroke-width="1"/>
<text x="574.0" y="168.6" font-size="10.0" fill="#111">145-00</text>
<line x1="566" y1="139.0" x2="570.5" y2="139.0" stroke="#333" stroke-width="1"/>
<text x="574.0" y="142.6" font-size="10.0" fill="#111">150-00</text>
<line x1="566" y1="113.0" x2="570.5" y2="113.0" stroke="#333" stroke-width="1"/>
<line x1="566" y1="87.0" x2="570.5" y2="87.0" stroke="#333" stroke-width="1"/>
<text x="574.0" y="90.6" font-size="10.0" fill="#111">160-00</text>
<line x1="566" y1="61.0" x2="570.5" y2="61.0" stroke="#333" stroke-width="1"/>
<text x="574.0" y="64.6" font-size="10.0" fill="#111">165-00</text>
<line x1="566" y1="35.0" x2="570.5" y2="35.0" stroke="#333" stroke-width="1"/>
<text x="574.0" y="38.6" font-size="10.0" fill="#111">170-00</text>
<rect x="573.9" y="115" width="32" height="10" fill="#000"/>
<text x="574.4" y="123.6" font-size="10.2" fill="#fff">153-24</text>
<text x="22.3" y="325.5" font-size="9.4" fill="#111" text-anchor="end">800K</text>
<line x1="25" y1="343.5" x2="28" y2="343.5" stroke="#333" stroke-width="1"/>
<text x="22.3" y="347.0" font-size="9.4" fill="#111" text-anchor="end">600K</text>
<line x1="25" y1="365.0" x2="28" y2="365.0" stroke="#333" stroke-width="1"/>
<text x="22.3" y="368.5" font-size="9.4" fill="#111" text-anchor="end">400K</text>
<line x1="25" y1="386.5" x2="28" y2="386.5" stroke="#333" stroke-width="1"/>
<text x="22.3" y="390.0" font-size="9.4" fill="#111" text-anchor="end">200K</text>
<text x="22.3" y="411.5" font-size="9.4" fill="#111" text-anchor="end">0K</text>
<line x1="566" y1="339.0" x2="570.5" y2="339.0" stroke="#333" stroke-width="1"/>
<text x="573.2" y="342.3" font-size="9.2" fill="#111">1M</text>
<line x1="566" y1="373.5" x2="570.5" y2="373.5" stroke="#333" stroke-width="1"/>
<text x="573.2" y="376.8" font-size="9.2" fill="#111">0.5M</text>
<text x="573.2" y="411.3" font-size="9.2" fill="#111">0M</text>
<line x1="38.7" y1="408" x2="38.7" y2="411" stroke="#333" stroke-width="1"/>
<text x="38.7" y="419.9" font-size="9.4" fill="#111" text-anchor="middle">2011</text>
<line x1="142.9" y1="408" x2="142.9" y2="411" stroke="#333" stroke-width="1"/>
<text x="142.9" y="419.9" font-size="9.4" fill="#111" text-anchor="middle">2012</text>
<line x1="248.6" y1="408" x2="248.6" y2="411" stroke="#333" stroke-width="1"/>
<text x="248.6" y="419.9" font-size="9.4" fill="#111" text-anchor="middle">2013</text>
<line x1="351.5" y1="408" x2="351.5" y2="411" stroke="#333" stroke-width="1"/>
<text x="351.5" y="419.9" font-size="9.4" fill="#111" text-anchor="middle">2014</text>
<line x1="454.8" y1="408" x2="454.8" y2="411" stroke="#333" stroke-width="1"/>
<text x="454.8" y="419.9" font-size="9.4" fill="#111" text-anchor="middle">2015</text>
</svg>
</body></html>
